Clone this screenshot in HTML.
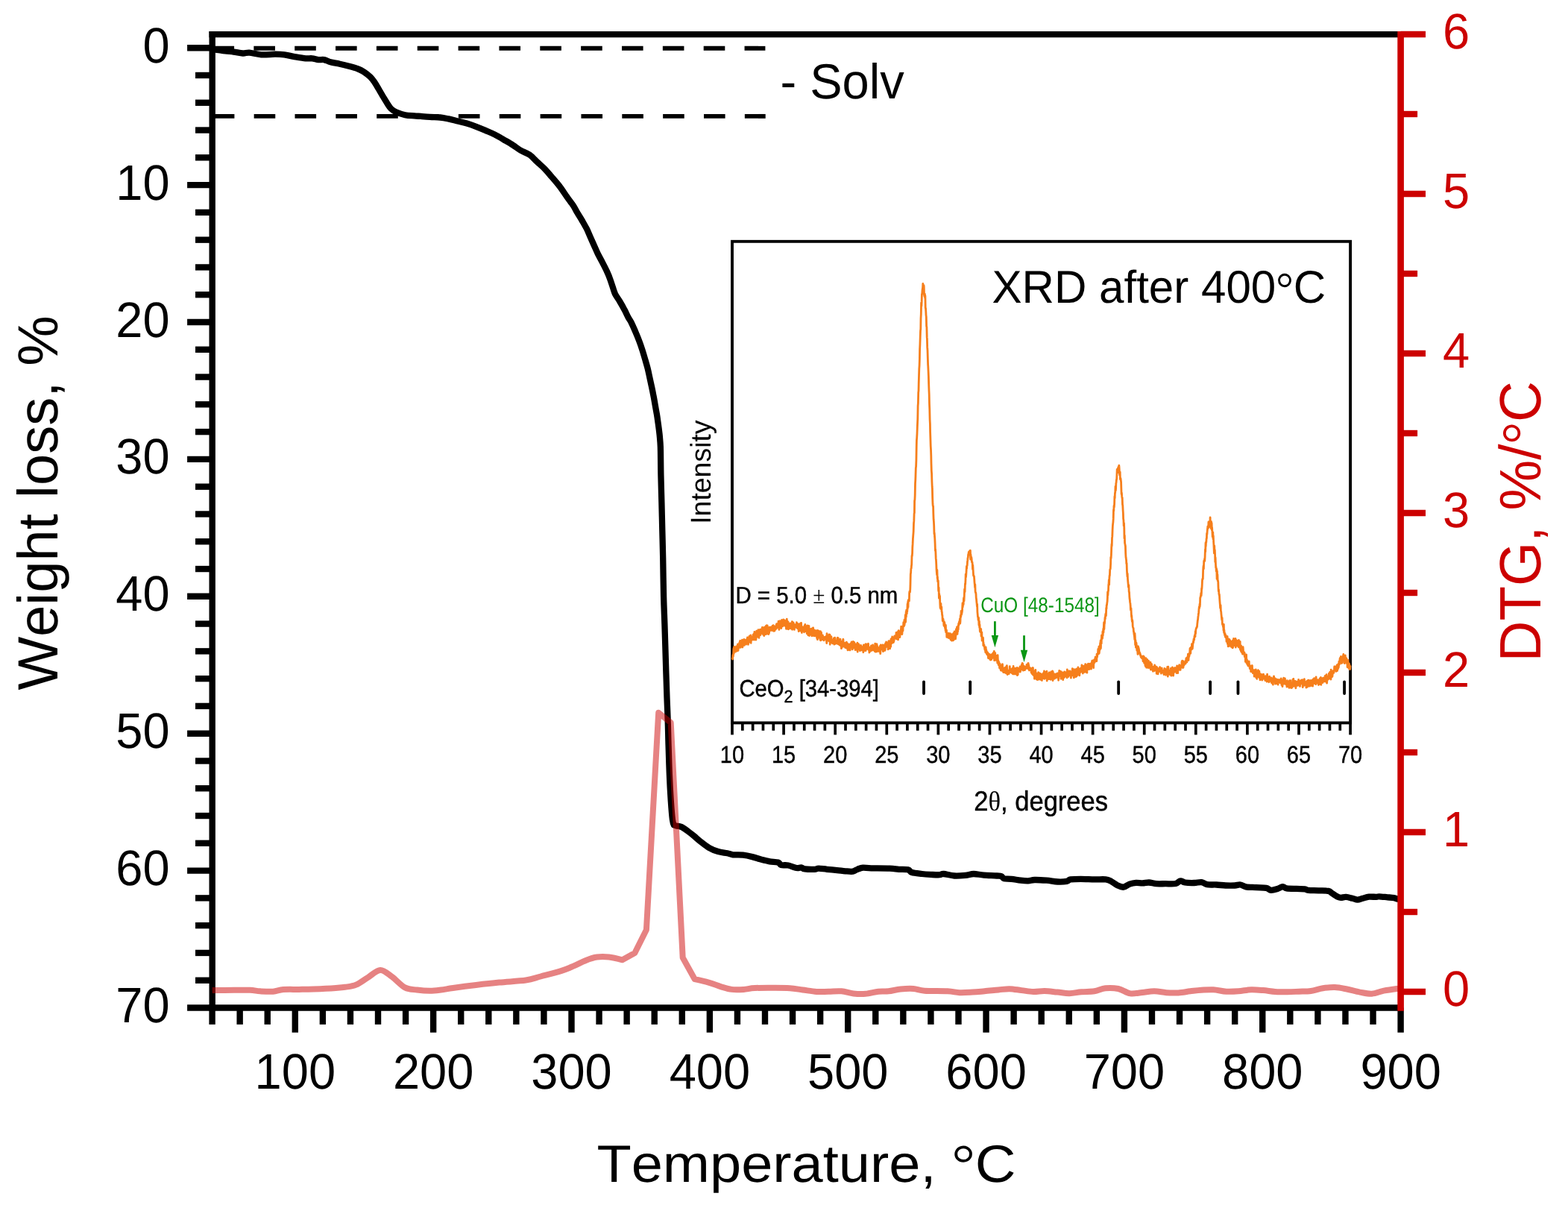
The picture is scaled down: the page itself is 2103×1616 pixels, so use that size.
<!DOCTYPE html>
<html lang="en">
<head>
<meta charset="utf-8">
<title>TGA / DTG with XRD inset</title>
<style>
html,body{margin:0;padding:0;background:#fff;}
body{width:2103px;height:1616px;overflow:hidden;}
svg{display:block;}
svg text{font-kerning:none;font-variant-ligatures:none;text-rendering:geometricPrecision;}
</style>
</head>
<body>
<svg width="2103" height="1616" viewBox="0 0 2103 1616">
<rect x="0" y="0" width="2103" height="1616" fill="#fff"/>
<line x1="285.50" y1="64.80" x2="1026.40" y2="64.80" stroke="#000" stroke-width="5.9" stroke-dasharray="28.6 26.25"/>
<line x1="285.80" y1="155.90" x2="1026.70" y2="155.90" stroke="#000" stroke-width="5.9" stroke-dasharray="28.6 26.25"/>
<path d="M284.7 66.3C285.4 66.3 286.0 66.2 288.9 66.5C291.8 66.8 298.1 67.9 302.2 68.4C306.3 68.9 309.4 69.1 313.3 69.6C317.2 70.1 322.2 71.3 325.7 71.5C329.2 71.7 330.3 70.3 334.4 70.6C338.5 70.9 344.6 72.9 350.4 73.3C356.2 73.7 363.8 72.7 369.0 72.7C374.2 72.7 377.3 72.8 381.4 73.3C385.5 73.8 389.1 75.0 393.8 75.8C398.6 76.6 405.8 77.9 409.9 78.3C414.0 78.7 415.6 78.0 418.5 78.3C421.4 78.6 424.5 79.8 427.2 80.1C429.9 80.4 431.9 79.6 434.6 80.1C437.3 80.6 439.8 82.3 443.3 83.2C446.8 84.1 451.5 84.8 455.6 85.7C459.7 86.6 463.9 87.7 468.0 88.8C472.1 89.9 477.1 91.3 480.4 92.5C483.7 93.7 485.1 94.5 487.8 96.2C490.5 98.0 494.0 100.6 496.5 103.0C499.0 105.4 500.9 108.2 502.7 110.8C504.5 113.4 505.8 115.8 507.5 118.8C509.2 121.8 511.3 125.5 513.2 128.6C515.1 131.7 516.9 134.8 518.7 137.6C520.6 140.4 522.2 143.5 524.3 145.6C526.4 147.7 528.0 148.8 531.2 150.2C534.4 151.6 539.2 153.3 543.3 154.2C547.4 155.1 552.2 155.1 555.7 155.4C559.2 155.7 560.9 155.7 564.4 155.9C567.9 156.2 572.4 156.6 576.7 156.9C581.0 157.2 586.2 157.1 590.3 157.5C594.4 157.9 597.6 158.6 601.5 159.4C605.4 160.2 609.8 161.5 613.9 162.5C618.0 163.5 622.1 164.4 626.2 165.6C630.3 166.8 634.5 168.3 638.6 169.9C642.7 171.5 646.9 173.2 651.0 174.9C655.1 176.7 659.3 178.3 663.4 180.4C667.5 182.5 671.6 184.9 675.7 187.3C679.8 189.7 684.4 192.3 688.1 194.7C691.8 197.1 694.3 199.3 698.0 201.5C701.7 203.7 706.7 205.1 710.4 207.7C714.1 210.3 717.0 213.9 720.3 217.0C723.6 220.1 726.9 222.8 730.2 226.2C733.5 229.6 736.8 233.6 740.1 237.4C743.4 241.2 746.5 244.6 750.0 249.1C753.5 253.6 757.6 260.2 760.8 264.7C763.9 269.1 766.6 272.3 768.9 275.8C771.2 279.3 772.5 282.4 774.5 285.7C776.5 289.0 778.6 292.1 780.6 295.6C782.6 299.1 784.9 303.0 786.8 306.7C788.7 310.4 790.1 314.2 791.8 317.9C793.4 321.6 795.1 325.3 796.7 329.0C798.4 332.7 799.8 336.3 801.7 340.1C803.6 343.9 805.8 347.9 807.9 351.9C810.0 355.9 812.4 360.5 814.1 364.3C815.9 368.1 817.1 371.2 818.4 374.8C819.7 378.4 821.0 382.6 822.1 385.9C823.2 389.2 823.7 391.5 825.2 394.6C826.8 397.7 829.3 401.0 831.4 404.5C833.5 408.0 835.8 412.1 837.6 415.6C839.5 419.1 841.0 422.7 842.5 425.5C844.0 428.3 845.0 429.2 846.6 432.4C848.2 435.6 850.4 440.7 852.2 444.8C854.0 448.9 855.7 453.0 857.2 457.1C858.8 461.2 860.2 465.4 861.5 469.5C862.8 473.6 864.0 477.8 865.2 481.9C866.4 486.0 867.7 490.2 868.7 494.3C869.7 498.4 870.5 502.5 871.4 506.6C872.3 510.7 873.2 514.9 874.1 519.0C875.0 523.1 875.8 527.3 876.6 531.4C877.4 535.5 878.1 539.7 878.8 543.8C879.5 547.9 880.3 552.0 881.0 556.1C881.7 560.2 882.2 564.4 882.8 568.5C883.4 572.6 883.9 576.8 884.4 580.9C884.9 585.0 885.2 589.2 885.5 593.3C885.8 597.4 885.9 598.3 886.0 605.6C886.1 612.9 886.2 625.7 886.4 637.1C886.6 648.5 887.1 661.9 887.4 674.3C887.7 686.7 888.0 699.0 888.3 711.4C888.6 723.8 888.9 733.7 889.2 748.5C889.5 763.3 889.7 785.2 890.1 800.0C890.5 814.8 890.9 822.7 891.4 837.1C891.9 851.5 892.4 870.1 892.9 886.6C893.4 903.1 894.0 922.7 894.5 936.1C895.0 949.5 895.4 956.5 895.7 967.1C896.1 977.8 896.2 988.3 896.6 1000.0C897.0 1011.7 897.3 1024.7 897.8 1037.1C898.3 1049.5 899.1 1064.0 899.8 1074.3C900.5 1084.6 901.2 1093.7 901.9 1099.0C902.6 1104.3 903.8 1106.4 903.8 1106.4C903.8 1106.4 907.5 1107.7 907.5 1107.7C907.5 1107.7 911.2 1107.8 913.7 1108.9C916.2 1110.0 919.4 1112.4 922.3 1114.5C925.2 1116.6 928.1 1118.9 931.0 1121.3C933.9 1123.7 936.4 1126.1 939.7 1128.7C943.0 1131.3 946.9 1134.6 950.8 1136.8C954.7 1139.0 959.1 1140.9 963.2 1142.1C967.3 1143.3 972.2 1143.5 975.5 1144.2C978.8 1144.9 979.5 1145.9 983.0 1146.3C986.5 1146.7 992.3 1146.2 996.6 1146.7C1000.9 1147.2 1004.9 1148.1 1009.0 1149.1C1013.1 1150.1 1017.4 1151.8 1021.3 1152.8C1025.2 1153.8 1028.7 1154.7 1032.4 1155.3C1036.1 1155.9 1040.9 1155.7 1043.5 1156.5C1046.1 1157.3 1045.5 1159.3 1047.8 1160.0C1050.1 1160.7 1053.7 1159.8 1057.1 1160.5C1060.5 1161.2 1065.4 1163.5 1068.3 1164.0C1071.2 1164.5 1072.7 1163.1 1074.5 1163.3C1076.3 1163.5 1076.3 1165.0 1079.4 1165.4C1082.5 1165.8 1089.9 1165.9 1093.0 1165.8C1096.1 1165.7 1095.3 1164.6 1098.0 1164.6C1100.7 1164.6 1105.0 1165.4 1109.1 1165.8C1113.2 1166.2 1118.6 1166.7 1122.7 1167.1C1126.8 1167.5 1130.4 1168.0 1133.9 1168.3C1137.4 1168.6 1141.1 1169.1 1143.8 1168.7C1146.5 1168.3 1147.7 1166.6 1150.0 1165.8C1152.3 1165.0 1154.3 1164.0 1157.4 1163.7C1160.5 1163.5 1162.5 1164.2 1168.5 1164.3C1174.5 1164.4 1187.1 1164.3 1193.3 1164.6C1199.5 1164.8 1201.5 1165.5 1205.6 1165.8C1209.7 1166.1 1215.1 1165.7 1218.0 1166.4C1220.9 1167.1 1219.9 1169.2 1223.0 1170.1C1226.1 1171.0 1232.3 1171.5 1236.6 1172.0C1240.9 1172.5 1245.1 1172.7 1249.0 1172.9C1252.9 1173.1 1257.3 1173.4 1260.1 1173.2C1262.9 1173.0 1262.4 1171.8 1265.7 1172.0C1269.0 1172.2 1275.2 1174.2 1280.0 1174.5C1284.8 1174.8 1290.5 1174.3 1294.8 1173.9C1299.1 1173.5 1301.8 1172.0 1305.9 1172.0C1310.0 1172.0 1314.3 1173.2 1319.5 1173.6C1324.7 1174.0 1332.9 1174.2 1336.8 1174.5C1340.7 1174.8 1341.3 1174.5 1343.0 1175.1C1344.7 1175.7 1344.4 1177.6 1346.7 1178.2C1349.0 1178.8 1352.9 1178.4 1356.6 1178.8C1360.3 1179.2 1365.3 1180.3 1369.0 1180.7C1372.7 1181.1 1375.8 1181.4 1378.9 1181.3C1382.0 1181.2 1383.5 1180.1 1387.6 1180.0C1391.7 1179.9 1398.5 1180.3 1403.7 1180.7C1408.9 1181.1 1414.0 1182.3 1418.5 1182.5C1423.0 1182.7 1428.0 1182.4 1430.9 1181.9C1433.8 1181.4 1432.7 1179.9 1435.8 1179.4C1438.9 1178.9 1444.1 1178.8 1449.5 1178.8C1454.9 1178.8 1462.4 1179.3 1468.0 1179.4C1473.6 1179.5 1479.2 1179.0 1482.9 1179.4C1486.6 1179.8 1487.6 1180.6 1490.3 1181.9C1493.0 1183.2 1496.2 1186.2 1499.0 1187.5C1501.8 1188.8 1504.3 1190.0 1507.0 1189.7C1509.7 1189.4 1512.2 1186.6 1515.0 1185.6C1517.8 1184.6 1520.8 1184.0 1523.7 1183.8C1526.6 1183.6 1529.5 1184.5 1532.4 1184.4C1535.3 1184.4 1537.9 1183.4 1541.0 1183.5C1544.1 1183.6 1547.2 1184.9 1550.9 1185.2C1554.6 1185.5 1559.0 1185.2 1563.3 1185.2C1567.6 1185.2 1573.6 1185.7 1576.9 1185.0C1580.2 1184.3 1581.0 1181.5 1583.1 1181.3C1585.2 1181.0 1586.2 1183.0 1589.3 1183.5C1592.4 1184.0 1598.0 1184.1 1601.7 1184.0C1605.4 1183.9 1608.7 1182.7 1611.6 1183.1C1614.5 1183.5 1615.7 1185.6 1619.0 1186.2C1622.3 1186.8 1627.3 1186.3 1631.4 1186.5C1635.5 1186.7 1639.7 1187.3 1643.8 1187.5C1647.9 1187.7 1652.8 1187.7 1656.1 1187.5C1659.4 1187.3 1661.1 1186.2 1663.6 1186.5C1666.1 1186.8 1667.5 1188.7 1671.0 1189.3C1674.5 1189.9 1680.1 1189.9 1684.6 1190.2C1689.1 1190.5 1694.8 1190.3 1698.2 1190.9C1701.6 1191.5 1702.2 1193.6 1704.7 1193.8C1707.2 1194.0 1710.7 1192.8 1713.3 1192.0C1715.9 1191.2 1718.3 1189.2 1720.4 1189.1C1722.5 1189.0 1722.7 1190.9 1725.7 1191.4C1728.8 1191.9 1734.7 1191.8 1738.7 1191.9C1742.8 1192.1 1747.3 1192.0 1750.0 1192.3C1752.7 1192.6 1751.7 1193.6 1754.8 1193.9C1757.9 1194.2 1763.9 1194.1 1768.4 1194.3C1772.9 1194.5 1778.7 1194.3 1781.7 1194.9C1784.7 1195.5 1784.1 1196.5 1786.6 1198.0C1789.1 1199.5 1793.4 1202.8 1796.5 1203.6C1799.6 1204.4 1802.3 1202.7 1805.2 1202.9C1808.1 1203.1 1811.3 1204.2 1813.9 1204.8C1816.5 1205.4 1818.4 1206.7 1820.7 1206.7C1823.0 1206.7 1824.9 1205.5 1827.5 1204.8C1830.1 1204.1 1833.0 1202.9 1836.1 1202.6C1839.2 1202.3 1843.7 1203.0 1846.0 1202.9C1848.3 1202.9 1847.3 1202.2 1849.8 1202.3C1852.3 1202.4 1857.6 1203.0 1860.9 1203.3C1864.2 1203.6 1867.3 1203.8 1869.6 1204.2C1871.9 1204.6 1873.0 1205.5 1874.5 1205.8C1876.0 1206.1 1877.9 1206.1 1878.6 1206.2" fill="none" stroke="#000" stroke-width="8.3" stroke-linejoin="round" stroke-linecap="butt"/>
<rect x="982.0" y="323.8" width="829.10" height="645.60" fill="none" stroke="#000" stroke-width="3.9"/>
<line x1="982.00" y1="969.40" x2="982.00" y2="985.40" stroke="#000" stroke-width="3.7" />
<line x1="995.82" y1="969.40" x2="995.82" y2="979.80" stroke="#000" stroke-width="3.7" />
<line x1="1009.64" y1="969.40" x2="1009.64" y2="979.80" stroke="#000" stroke-width="3.7" />
<line x1="1023.45" y1="969.40" x2="1023.45" y2="979.80" stroke="#000" stroke-width="3.7" />
<line x1="1037.27" y1="969.40" x2="1037.27" y2="979.80" stroke="#000" stroke-width="3.7" />
<line x1="1051.09" y1="969.40" x2="1051.09" y2="985.40" stroke="#000" stroke-width="3.7" />
<line x1="1064.91" y1="969.40" x2="1064.91" y2="979.80" stroke="#000" stroke-width="3.7" />
<line x1="1078.73" y1="969.40" x2="1078.73" y2="979.80" stroke="#000" stroke-width="3.7" />
<line x1="1092.54" y1="969.40" x2="1092.54" y2="979.80" stroke="#000" stroke-width="3.7" />
<line x1="1106.36" y1="969.40" x2="1106.36" y2="979.80" stroke="#000" stroke-width="3.7" />
<line x1="1120.18" y1="969.40" x2="1120.18" y2="985.40" stroke="#000" stroke-width="3.7" />
<line x1="1134.00" y1="969.40" x2="1134.00" y2="979.80" stroke="#000" stroke-width="3.7" />
<line x1="1147.82" y1="969.40" x2="1147.82" y2="979.80" stroke="#000" stroke-width="3.7" />
<line x1="1161.63" y1="969.40" x2="1161.63" y2="979.80" stroke="#000" stroke-width="3.7" />
<line x1="1175.45" y1="969.40" x2="1175.45" y2="979.80" stroke="#000" stroke-width="3.7" />
<line x1="1189.27" y1="969.40" x2="1189.27" y2="985.40" stroke="#000" stroke-width="3.7" />
<line x1="1203.09" y1="969.40" x2="1203.09" y2="979.80" stroke="#000" stroke-width="3.7" />
<line x1="1216.91" y1="969.40" x2="1216.91" y2="979.80" stroke="#000" stroke-width="3.7" />
<line x1="1230.72" y1="969.40" x2="1230.72" y2="979.80" stroke="#000" stroke-width="3.7" />
<line x1="1244.54" y1="969.40" x2="1244.54" y2="979.80" stroke="#000" stroke-width="3.7" />
<line x1="1258.36" y1="969.40" x2="1258.36" y2="985.40" stroke="#000" stroke-width="3.7" />
<line x1="1272.18" y1="969.40" x2="1272.18" y2="979.80" stroke="#000" stroke-width="3.7" />
<line x1="1286.00" y1="969.40" x2="1286.00" y2="979.80" stroke="#000" stroke-width="3.7" />
<line x1="1299.81" y1="969.40" x2="1299.81" y2="979.80" stroke="#000" stroke-width="3.7" />
<line x1="1313.63" y1="969.40" x2="1313.63" y2="979.80" stroke="#000" stroke-width="3.7" />
<line x1="1327.45" y1="969.40" x2="1327.45" y2="985.40" stroke="#000" stroke-width="3.7" />
<line x1="1341.27" y1="969.40" x2="1341.27" y2="979.80" stroke="#000" stroke-width="3.7" />
<line x1="1355.09" y1="969.40" x2="1355.09" y2="979.80" stroke="#000" stroke-width="3.7" />
<line x1="1368.90" y1="969.40" x2="1368.90" y2="979.80" stroke="#000" stroke-width="3.7" />
<line x1="1382.72" y1="969.40" x2="1382.72" y2="979.80" stroke="#000" stroke-width="3.7" />
<line x1="1396.54" y1="969.40" x2="1396.54" y2="985.40" stroke="#000" stroke-width="3.7" />
<line x1="1410.36" y1="969.40" x2="1410.36" y2="979.80" stroke="#000" stroke-width="3.7" />
<line x1="1424.18" y1="969.40" x2="1424.18" y2="979.80" stroke="#000" stroke-width="3.7" />
<line x1="1437.99" y1="969.40" x2="1437.99" y2="979.80" stroke="#000" stroke-width="3.7" />
<line x1="1451.81" y1="969.40" x2="1451.81" y2="979.80" stroke="#000" stroke-width="3.7" />
<line x1="1465.63" y1="969.40" x2="1465.63" y2="985.40" stroke="#000" stroke-width="3.7" />
<line x1="1479.45" y1="969.40" x2="1479.45" y2="979.80" stroke="#000" stroke-width="3.7" />
<line x1="1493.27" y1="969.40" x2="1493.27" y2="979.80" stroke="#000" stroke-width="3.7" />
<line x1="1507.08" y1="969.40" x2="1507.08" y2="979.80" stroke="#000" stroke-width="3.7" />
<line x1="1520.90" y1="969.40" x2="1520.90" y2="979.80" stroke="#000" stroke-width="3.7" />
<line x1="1534.72" y1="969.40" x2="1534.72" y2="985.40" stroke="#000" stroke-width="3.7" />
<line x1="1548.54" y1="969.40" x2="1548.54" y2="979.80" stroke="#000" stroke-width="3.7" />
<line x1="1562.36" y1="969.40" x2="1562.36" y2="979.80" stroke="#000" stroke-width="3.7" />
<line x1="1576.17" y1="969.40" x2="1576.17" y2="979.80" stroke="#000" stroke-width="3.7" />
<line x1="1589.99" y1="969.40" x2="1589.99" y2="979.80" stroke="#000" stroke-width="3.7" />
<line x1="1603.81" y1="969.40" x2="1603.81" y2="985.40" stroke="#000" stroke-width="3.7" />
<line x1="1617.63" y1="969.40" x2="1617.63" y2="979.80" stroke="#000" stroke-width="3.7" />
<line x1="1631.45" y1="969.40" x2="1631.45" y2="979.80" stroke="#000" stroke-width="3.7" />
<line x1="1645.26" y1="969.40" x2="1645.26" y2="979.80" stroke="#000" stroke-width="3.7" />
<line x1="1659.08" y1="969.40" x2="1659.08" y2="979.80" stroke="#000" stroke-width="3.7" />
<line x1="1672.90" y1="969.40" x2="1672.90" y2="985.40" stroke="#000" stroke-width="3.7" />
<line x1="1686.72" y1="969.40" x2="1686.72" y2="979.80" stroke="#000" stroke-width="3.7" />
<line x1="1700.54" y1="969.40" x2="1700.54" y2="979.80" stroke="#000" stroke-width="3.7" />
<line x1="1714.35" y1="969.40" x2="1714.35" y2="979.80" stroke="#000" stroke-width="3.7" />
<line x1="1728.17" y1="969.40" x2="1728.17" y2="979.80" stroke="#000" stroke-width="3.7" />
<line x1="1741.99" y1="969.40" x2="1741.99" y2="985.40" stroke="#000" stroke-width="3.7" />
<line x1="1755.81" y1="969.40" x2="1755.81" y2="979.80" stroke="#000" stroke-width="3.7" />
<line x1="1769.63" y1="969.40" x2="1769.63" y2="979.80" stroke="#000" stroke-width="3.7" />
<line x1="1783.44" y1="969.40" x2="1783.44" y2="979.80" stroke="#000" stroke-width="3.7" />
<line x1="1797.26" y1="969.40" x2="1797.26" y2="979.80" stroke="#000" stroke-width="3.7" />
<line x1="1811.08" y1="969.40" x2="1811.08" y2="985.40" stroke="#000" stroke-width="3.7" />
<path d="M982.2 882.9L982.5 884.0L982.8 878.5L983.0 878.6L983.3 880.5L983.6 876.7L983.9 869.7L984.2 876.4L984.4 868.0L984.7 867.2L985.0 872.8L985.3 871.3L985.6 872.1L985.8 872.1L986.1 872.4L986.4 874.2L986.7 869.3L987.0 869.9L987.2 868.7L987.5 866.9L987.8 867.2L988.1 870.2L988.4 869.4L988.6 873.0L988.9 868.5L989.2 866.2L989.5 864.0L989.8 870.6L990.0 872.3L990.3 868.8L990.6 869.3L990.9 865.4L991.2 864.1L991.4 865.2L991.7 862.2L992.0 867.1L992.3 860.4L992.6 859.4L992.8 859.2L993.1 868.4L993.4 866.0L993.7 866.3L994.0 866.3L994.2 866.2L994.5 867.2L994.8 865.7L995.1 866.4L995.4 858.2L995.6 859.5L995.9 868.0L996.2 864.0L996.5 864.7L996.8 858.6L997.0 861.1L997.3 859.4L997.6 864.7L997.9 857.5L998.2 861.0L998.4 865.4L998.7 857.9L999.0 858.4L999.3 862.4L999.6 861.3L999.8 860.5L1000.1 858.8L1000.4 860.4L1000.7 864.0L1001.0 860.9L1001.2 857.7L1001.5 857.7L1001.8 857.7L1002.1 859.7L1002.4 855.0L1002.6 859.0L1002.9 856.8L1003.2 859.9L1003.5 864.3L1003.8 858.7L1004.0 856.8L1004.3 857.1L1004.6 860.2L1004.9 853.5L1005.2 859.4L1005.4 861.2L1005.7 855.5L1006.0 858.3L1006.3 859.5L1006.6 851.8L1006.8 856.5L1007.1 862.3L1007.4 858.0L1007.7 855.9L1008.0 858.5L1008.2 854.3L1008.5 857.8L1008.8 854.1L1009.1 855.4L1009.4 856.5L1009.6 856.3L1009.9 851.4L1010.2 857.9L1010.5 856.2L1010.8 853.8L1011.0 850.2L1011.3 850.8L1011.6 858.0L1011.9 847.3L1012.2 857.2L1012.4 854.1L1012.7 853.9L1013.0 856.0L1013.3 856.9L1013.6 850.0L1013.8 858.2L1014.1 856.3L1014.4 851.1L1014.7 846.1L1015.0 854.0L1015.2 851.4L1015.5 853.8L1015.8 851.0L1016.1 854.1L1016.4 848.9L1016.6 853.4L1016.9 844.7L1017.2 853.7L1017.5 849.7L1017.8 850.1L1018.0 855.4L1018.3 850.0L1018.6 849.2L1018.9 845.8L1019.2 844.5L1019.4 847.5L1019.7 849.2L1020.0 851.5L1020.3 844.2L1020.6 846.9L1020.8 845.9L1021.1 846.2L1021.4 844.8L1021.7 849.3L1022.0 846.1L1022.2 842.1L1022.5 841.3L1022.8 845.0L1023.1 849.8L1023.4 849.6L1023.6 851.2L1023.9 849.1L1024.2 849.6L1024.5 850.7L1024.8 852.5L1025.0 841.3L1025.3 843.6L1025.6 848.3L1025.9 847.8L1026.2 848.7L1026.4 846.8L1026.7 850.7L1027.0 839.6L1027.3 844.5L1027.6 842.9L1027.8 842.8L1028.1 847.2L1028.4 838.6L1028.7 850.1L1029.0 846.2L1029.2 839.0L1029.5 847.8L1029.8 848.6L1030.1 849.9L1030.4 845.2L1030.6 844.8L1030.9 850.5L1031.2 847.1L1031.5 849.0L1031.8 846.8L1032.0 841.1L1032.3 844.4L1032.6 843.3L1032.9 844.9L1033.2 844.6L1033.4 844.3L1033.7 842.1L1034.0 845.3L1034.3 840.9L1034.6 842.7L1034.8 842.6L1035.1 843.0L1035.4 843.6L1035.7 845.4L1036.0 843.5L1036.2 839.1L1036.5 839.1L1036.8 844.0L1037.1 838.6L1037.4 846.3L1037.6 839.2L1037.9 842.9L1038.2 845.7L1038.5 843.3L1038.8 846.0L1039.0 843.9L1039.3 840.4L1039.6 842.9L1039.9 842.4L1040.2 843.3L1040.4 844.2L1040.7 839.7L1041.0 838.2L1041.3 842.8L1041.6 836.6L1041.8 840.5L1042.1 842.2L1042.4 839.8L1042.7 840.3L1043.0 839.7L1043.2 836.3L1043.5 837.5L1043.8 837.9L1044.1 833.1L1044.4 840.7L1044.6 838.8L1044.9 844.3L1045.2 840.3L1045.5 838.1L1045.8 833.1L1046.0 832.7L1046.3 838.2L1046.6 832.8L1046.9 835.0L1047.2 838.2L1047.4 838.8L1047.7 842.5L1048.0 841.5L1048.3 834.7L1048.6 831.4L1048.8 839.3L1049.1 833.0L1049.4 837.1L1049.7 836.7L1050.0 839.7L1050.2 838.6L1050.5 837.0L1050.8 830.9L1051.1 832.9L1051.4 837.9L1051.6 836.5L1051.9 836.3L1052.2 837.1L1052.5 832.0L1052.8 839.3L1053.0 837.9L1053.3 835.9L1053.6 834.7L1053.9 835.4L1054.2 837.1L1054.4 843.3L1054.7 835.8L1055.0 840.0L1055.3 830.2L1055.6 838.5L1055.8 843.3L1056.1 839.1L1056.4 839.8L1056.7 838.5L1057.0 833.9L1057.2 837.9L1057.5 843.8L1057.8 840.9L1058.1 837.5L1058.4 839.3L1058.6 839.8L1058.9 842.7L1059.2 837.9L1059.5 842.2L1059.8 835.9L1060.0 836.0L1060.3 840.3L1060.6 836.2L1060.9 840.8L1061.2 843.0L1061.4 841.9L1061.7 838.6L1062.0 841.1L1062.3 833.6L1062.6 844.3L1062.8 834.5L1063.1 834.2L1063.4 839.0L1063.7 838.3L1064.0 839.4L1064.2 835.1L1064.5 840.9L1064.8 838.9L1065.1 838.2L1065.4 844.4L1065.6 838.3L1065.9 837.7L1066.2 840.8L1066.5 841.5L1066.8 837.9L1067.0 840.1L1067.3 838.6L1067.6 840.7L1067.9 839.5L1068.2 841.4L1068.4 834.7L1068.7 837.8L1069.0 837.4L1069.3 842.4L1069.6 842.9L1069.8 841.6L1070.1 836.5L1070.4 840.7L1070.7 840.6L1071.0 843.2L1071.2 846.6L1071.5 837.7L1071.8 845.8L1072.1 842.1L1072.4 841.2L1072.6 841.3L1072.9 844.1L1073.2 836.2L1073.5 842.9L1073.8 842.7L1074.0 846.1L1074.3 840.0L1074.6 835.3L1074.9 842.8L1075.2 842.7L1075.4 848.5L1075.7 843.7L1076.0 843.9L1076.3 843.2L1076.6 843.2L1076.8 840.9L1077.1 845.4L1077.4 841.7L1077.7 846.0L1078.0 845.5L1078.2 840.8L1078.5 847.8L1078.8 841.0L1079.1 838.9L1079.4 843.6L1079.6 840.3L1079.9 837.3L1080.2 842.2L1080.5 846.7L1080.8 845.5L1081.0 839.5L1081.3 846.9L1081.6 843.9L1081.9 845.4L1082.2 849.6L1082.4 842.8L1082.7 844.9L1083.0 841.3L1083.3 838.8L1083.6 847.1L1083.8 851.8L1084.1 848.2L1084.4 846.6L1084.7 844.5L1085.0 839.3L1085.2 848.6L1085.5 852.5L1085.8 844.6L1086.1 843.7L1086.4 846.4L1086.6 846.6L1086.9 848.0L1087.2 846.2L1087.5 843.3L1087.8 851.3L1088.0 850.3L1088.3 848.2L1088.6 848.3L1088.9 852.8L1089.2 842.9L1089.4 850.6L1089.7 848.9L1090.0 848.2L1090.3 848.0L1090.6 841.9L1090.8 852.4L1091.1 847.5L1091.4 846.7L1091.7 851.0L1092.0 852.7L1092.2 844.9L1092.5 849.6L1092.8 852.8L1093.1 847.8L1093.4 851.2L1093.6 851.5L1093.9 849.1L1094.2 852.4L1094.5 845.6L1094.8 849.2L1095.0 853.1L1095.3 852.3L1095.6 855.5L1095.9 854.7L1096.2 851.9L1096.4 857.7L1096.7 845.4L1097.0 854.4L1097.3 853.6L1097.6 852.1L1097.8 855.0L1098.1 852.0L1098.4 846.4L1098.7 853.7L1099.0 850.4L1099.2 852.5L1099.5 850.8L1099.8 856.4L1100.1 858.1L1100.4 846.6L1100.6 858.9L1100.9 854.9L1101.2 849.4L1101.5 848.1L1101.8 854.5L1102.0 856.2L1102.3 854.5L1102.6 857.8L1102.9 853.4L1103.2 856.3L1103.4 851.8L1103.7 855.7L1104.0 854.0L1104.3 855.1L1104.6 857.4L1104.8 854.6L1105.1 858.9L1105.4 857.6L1105.7 855.2L1106.0 854.4L1106.2 857.1L1106.5 856.6L1106.8 856.0L1107.1 854.7L1107.4 854.6L1107.6 853.7L1107.9 857.1L1108.2 854.5L1108.5 859.6L1108.8 862.6L1109.0 849.7L1109.3 855.8L1109.6 854.4L1109.9 851.6L1110.2 859.2L1110.4 853.3L1110.7 857.3L1111.0 852.8L1111.3 851.9L1111.6 854.7L1111.8 859.8L1112.1 850.8L1112.4 856.5L1112.7 860.2L1113.0 851.2L1113.2 864.3L1113.5 855.0L1113.8 860.7L1114.1 856.8L1114.4 859.0L1114.6 856.7L1114.9 853.6L1115.2 861.8L1115.5 859.3L1115.8 861.7L1116.0 860.5L1116.3 860.6L1116.6 862.8L1116.9 861.2L1117.2 860.1L1117.4 858.2L1117.7 857.8L1118.0 857.8L1118.3 855.8L1118.6 861.9L1118.8 864.1L1119.1 860.7L1119.4 860.7L1119.7 855.1L1120.0 859.0L1120.2 860.8L1120.5 863.4L1120.8 862.5L1121.1 860.1L1121.4 860.0L1121.6 860.1L1121.9 861.1L1122.2 862.9L1122.5 860.9L1122.8 860.9L1123.0 856.2L1123.3 855.3L1123.6 862.2L1123.9 863.6L1124.2 855.6L1124.4 862.3L1124.7 860.5L1125.0 863.0L1125.3 860.9L1125.6 863.1L1125.8 864.8L1126.1 864.5L1126.4 863.2L1126.7 860.1L1127.0 857.1L1127.2 865.7L1127.5 865.4L1127.8 865.7L1128.1 860.4L1128.4 869.7L1128.6 869.1L1128.9 864.0L1129.2 861.2L1129.5 860.2L1129.8 867.5L1130.0 863.6L1130.3 862.8L1130.6 858.2L1130.9 857.3L1131.2 863.8L1131.4 864.2L1131.7 861.7L1132.0 862.0L1132.3 865.6L1132.6 867.4L1132.8 867.1L1133.1 864.5L1133.4 865.1L1133.7 868.5L1134.0 862.2L1134.2 862.3L1134.5 864.8L1134.8 866.5L1135.1 868.5L1135.4 861.2L1135.6 869.3L1135.9 865.4L1136.2 863.2L1136.5 862.7L1136.8 865.4L1137.0 871.9L1137.3 863.6L1137.6 866.7L1137.9 869.3L1138.2 865.9L1138.4 867.0L1138.7 869.6L1139.0 866.5L1139.3 864.1L1139.6 871.9L1139.8 867.8L1140.1 871.8L1140.4 866.3L1140.7 866.0L1141.0 862.9L1141.2 866.3L1141.5 867.1L1141.8 864.4L1142.1 860.9L1142.4 863.4L1142.6 865.5L1142.9 866.2L1143.2 870.9L1143.5 867.1L1143.8 866.4L1144.0 866.5L1144.3 860.4L1144.6 868.9L1144.9 865.1L1145.2 863.9L1145.4 863.7L1145.7 861.5L1146.0 868.3L1146.3 862.8L1146.6 869.2L1146.8 868.4L1147.1 871.5L1147.4 867.9L1147.7 868.1L1148.0 865.7L1148.2 869.0L1148.5 866.2L1148.8 863.8L1149.1 871.5L1149.4 869.5L1149.6 870.6L1149.9 862.2L1150.2 874.1L1150.5 864.3L1150.8 868.6L1151.0 868.5L1151.3 864.3L1151.6 863.8L1151.9 869.1L1152.2 868.8L1152.4 865.4L1152.7 870.9L1153.0 867.1L1153.3 872.7L1153.6 871.6L1153.8 867.3L1154.1 871.2L1154.4 868.7L1154.7 865.5L1155.0 872.0L1155.2 869.0L1155.5 867.2L1155.8 870.2L1156.1 868.2L1156.4 871.7L1156.6 868.3L1156.9 869.7L1157.2 871.5L1157.5 867.8L1157.8 874.8L1158.0 867.2L1158.3 865.0L1158.6 873.0L1158.9 870.9L1159.2 866.4L1159.4 866.4L1159.7 869.4L1160.0 866.8L1160.3 869.1L1160.6 870.7L1160.8 863.9L1161.1 872.7L1161.4 863.6L1161.7 867.5L1162.0 867.0L1162.2 870.7L1162.5 866.0L1162.8 864.4L1163.1 869.2L1163.4 864.7L1163.6 870.3L1163.9 867.2L1164.2 867.1L1164.5 863.2L1164.8 868.8L1165.0 871.5L1165.3 867.9L1165.6 870.6L1165.9 875.1L1166.2 873.5L1166.4 874.3L1166.7 868.4L1167.0 870.4L1167.3 873.1L1167.6 868.5L1167.8 869.6L1168.1 867.9L1168.4 865.8L1168.7 871.7L1169.0 872.4L1169.2 871.9L1169.5 867.5L1169.8 867.4L1170.1 870.3L1170.4 870.0L1170.6 864.8L1170.9 867.3L1171.2 866.8L1171.5 872.0L1171.8 871.3L1172.0 867.9L1172.3 867.9L1172.6 867.3L1172.9 867.4L1173.2 871.4L1173.4 873.6L1173.7 863.2L1174.0 870.2L1174.3 872.5L1174.6 874.2L1174.8 872.9L1175.1 872.1L1175.4 865.6L1175.7 869.5L1176.0 863.7L1176.2 873.8L1176.5 866.0L1176.8 873.2L1177.1 869.4L1177.4 870.9L1177.6 873.2L1177.9 870.4L1178.2 868.7L1178.5 872.1L1178.8 873.6L1179.0 868.9L1179.3 868.7L1179.6 871.6L1179.9 871.9L1180.2 866.4L1180.4 871.4L1180.7 876.7L1181.0 872.4L1181.3 864.9L1181.6 868.3L1181.8 869.2L1182.1 870.9L1182.4 867.5L1182.7 865.8L1183.0 870.0L1183.2 868.5L1183.5 871.0L1183.8 864.9L1184.1 870.4L1184.4 873.7L1184.6 865.7L1184.9 872.5L1185.2 865.1L1185.5 867.2L1185.8 867.3L1186.0 866.3L1186.3 865.6L1186.6 867.8L1186.9 872.3L1187.2 871.4L1187.4 863.9L1187.7 862.7L1188.0 863.3L1188.3 867.8L1188.6 860.8L1188.8 861.3L1189.1 865.1L1189.4 863.7L1189.7 865.0L1190.0 864.6L1190.2 865.5L1190.5 861.8L1190.8 865.4L1191.1 870.8L1191.4 865.2L1191.6 861.9L1191.9 859.7L1192.2 865.7L1192.5 864.0L1192.8 868.2L1193.0 864.7L1193.3 859.6L1193.6 869.9L1193.9 863.8L1194.2 862.4L1194.4 859.4L1194.7 867.3L1195.0 856.9L1195.3 860.9L1195.6 858.1L1195.8 862.9L1196.1 862.3L1196.4 857.9L1196.7 853.8L1197.0 859.7L1197.2 858.5L1197.5 861.8L1197.8 855.7L1198.1 855.0L1198.4 861.5L1198.6 855.9L1198.9 860.0L1199.2 857.9L1199.5 854.6L1199.8 852.8L1200.0 853.8L1200.3 853.8L1200.6 855.4L1200.9 854.1L1201.2 855.8L1201.4 852.7L1201.7 856.2L1202.0 848.4L1202.3 856.9L1202.6 849.5L1202.8 853.0L1203.1 856.7L1203.4 849.0L1203.7 847.7L1204.0 854.3L1204.2 852.9L1204.5 857.9L1204.8 850.3L1205.1 845.6L1205.4 847.3L1205.6 849.6L1205.9 851.0L1206.2 850.5L1206.5 849.8L1206.8 854.6L1207.0 853.9L1207.3 848.5L1207.6 848.0L1207.9 847.0L1208.2 844.8L1208.4 844.9L1208.7 840.1L1209.0 842.1L1209.3 841.5L1209.6 844.3L1209.8 850.6L1210.1 847.9L1210.4 843.4L1210.7 840.5L1211.0 846.0L1211.2 839.6L1211.5 839.8L1211.8 834.7L1212.1 839.7L1212.4 834.3L1212.6 839.5L1212.9 831.3L1213.2 837.9L1213.5 831.2L1213.8 831.4L1214.0 829.6L1214.3 824.6L1214.6 834.3L1214.9 826.5L1215.2 820.3L1215.4 827.4L1215.7 818.2L1216.0 818.1L1216.3 822.8L1216.6 818.9L1216.8 819.9L1217.1 810.0L1217.4 816.4L1217.7 807.0L1218.0 814.1L1218.2 804.7L1218.5 806.5L1218.8 806.3L1219.1 804.8L1219.4 805.9L1219.6 795.4L1219.9 793.3L1220.2 792.7L1220.5 794.1L1220.8 789.5L1221.0 783.1L1221.3 770.0L1221.6 768.0L1221.9 762.5L1222.2 762.4L1222.4 759.3L1222.7 757.0L1223.0 745.2L1223.3 745.6L1223.6 741.8L1223.8 734.2L1224.1 729.9L1224.4 723.0L1224.7 718.8L1225.0 715.1L1225.2 712.3L1225.5 701.8L1225.8 698.9L1226.1 688.6L1226.4 688.1L1226.6 671.2L1226.9 670.7L1227.2 664.1L1227.5 648.4L1227.8 643.3L1228.0 637.7L1228.3 627.8L1228.6 625.6L1228.9 617.2L1229.2 599.3L1229.4 590.6L1229.7 587.0L1230.0 581.5L1230.3 573.1L1230.6 565.7L1230.8 561.9L1231.1 544.4L1231.4 540.6L1231.7 526.5L1232.0 524.1L1232.2 514.6L1232.5 504.3L1232.8 494.5L1233.1 490.2L1233.4 481.1L1233.6 469.0L1233.9 462.2L1234.2 452.8L1234.5 443.6L1234.8 441.3L1235.0 427.1L1235.3 421.7L1235.6 406.0L1235.9 410.6L1236.2 404.4L1236.4 394.5L1236.7 394.6L1237.0 389.7L1237.3 387.1L1237.6 385.1L1237.8 380.5L1238.1 383.1L1238.4 386.3L1238.7 385.2L1239.0 382.6L1239.2 384.1L1239.5 394.8L1239.8 397.2L1240.1 396.1L1240.4 394.2L1240.6 399.8L1240.9 396.5L1241.2 412.9L1241.5 413.1L1241.8 418.0L1242.0 422.6L1242.3 424.9L1242.6 437.8L1242.9 438.6L1243.2 452.4L1243.4 454.2L1243.7 465.9L1244.0 469.6L1244.3 479.5L1244.6 488.6L1244.8 491.7L1245.1 498.2L1245.4 505.0L1245.7 515.7L1246.0 524.2L1246.2 528.7L1246.5 542.0L1246.8 549.1L1247.1 562.7L1247.4 568.3L1247.6 579.1L1247.9 588.1L1248.2 597.8L1248.5 602.6L1248.8 611.1L1249.0 621.4L1249.3 631.3L1249.6 635.2L1249.9 645.9L1250.2 653.0L1250.4 654.9L1250.7 668.1L1251.0 676.0L1251.3 678.9L1251.6 678.9L1251.8 687.8L1252.1 696.2L1252.4 699.3L1252.7 705.2L1253.0 716.1L1253.2 714.5L1253.5 718.9L1253.8 722.5L1254.1 729.0L1254.4 738.7L1254.6 736.6L1254.9 741.0L1255.2 748.9L1255.5 751.5L1255.8 757.8L1256.0 763.1L1256.3 767.4L1256.6 770.9L1256.9 764.5L1257.2 775.6L1257.4 773.4L1257.7 779.9L1258.0 779.6L1258.3 778.6L1258.6 791.2L1258.8 792.9L1259.1 787.9L1259.4 802.2L1259.7 796.4L1260.0 798.8L1260.2 801.1L1260.5 799.2L1260.8 809.6L1261.1 815.4L1261.4 811.4L1261.6 816.4L1261.9 809.3L1262.2 815.9L1262.5 817.1L1262.8 814.0L1263.0 820.3L1263.3 820.5L1263.6 824.8L1263.9 825.2L1264.2 832.2L1264.4 832.9L1264.7 829.7L1265.0 830.2L1265.3 832.6L1265.6 833.2L1265.8 838.0L1266.1 839.4L1266.4 839.3L1266.7 834.4L1267.0 837.6L1267.2 836.9L1267.5 842.5L1267.8 841.8L1268.1 845.6L1268.4 838.4L1268.6 847.8L1268.9 847.2L1269.2 844.8L1269.5 845.3L1269.8 854.4L1270.0 849.2L1270.3 850.3L1270.6 852.8L1270.9 851.9L1271.2 853.1L1271.4 853.4L1271.7 854.1L1272.0 855.3L1272.3 849.1L1272.6 849.9L1272.8 853.8L1273.1 849.6L1273.4 855.8L1273.7 850.6L1274.0 855.7L1274.2 855.6L1274.5 849.7L1274.8 856.6L1275.1 858.0L1275.4 850.9L1275.6 853.8L1275.9 857.9L1276.2 853.9L1276.5 859.1L1276.8 857.9L1277.0 850.7L1277.3 857.3L1277.6 858.5L1277.9 854.9L1278.2 855.3L1278.4 858.9L1278.7 850.8L1279.0 848.8L1279.3 857.9L1279.6 851.3L1279.8 852.6L1280.1 847.0L1280.4 850.4L1280.7 851.3L1281.0 849.2L1281.2 847.1L1281.5 856.8L1281.8 852.8L1282.1 851.5L1282.4 843.7L1282.6 845.8L1282.9 843.9L1283.2 848.6L1283.5 840.9L1283.8 844.6L1284.0 850.4L1284.3 843.4L1284.6 847.0L1284.9 839.8L1285.2 844.1L1285.4 838.8L1285.7 836.2L1286.0 838.4L1286.3 834.8L1286.6 833.5L1286.8 834.7L1287.1 833.5L1287.4 829.8L1287.7 836.2L1288.0 833.0L1288.2 826.3L1288.5 824.7L1288.8 827.3L1289.1 819.4L1289.4 822.5L1289.6 824.3L1289.9 822.7L1290.2 821.4L1290.5 819.4L1290.8 812.7L1291.0 808.7L1291.3 814.0L1291.6 809.4L1291.9 811.3L1292.2 810.0L1292.4 803.1L1292.7 801.5L1293.0 805.9L1293.3 799.2L1293.6 790.2L1293.8 792.7L1294.1 793.6L1294.4 782.9L1294.7 783.5L1295.0 777.2L1295.2 770.1L1295.5 773.8L1295.8 770.3L1296.1 765.7L1296.4 759.6L1296.6 762.7L1296.9 758.3L1297.2 758.4L1297.5 753.0L1297.8 751.2L1298.0 748.4L1298.3 747.7L1298.6 743.5L1298.9 744.6L1299.2 740.9L1299.4 740.2L1299.7 741.2L1300.0 742.3L1300.3 739.6L1300.6 738.6L1300.8 741.8L1301.1 740.8L1301.4 738.2L1301.7 750.1L1302.0 743.9L1302.2 747.1L1302.5 747.7L1302.8 747.2L1303.1 749.1L1303.4 753.5L1303.6 754.2L1303.9 753.6L1304.2 755.7L1304.5 763.4L1304.8 758.1L1305.0 761.4L1305.3 767.2L1305.6 771.9L1305.9 771.7L1306.2 773.3L1306.4 772.6L1306.7 776.3L1307.0 781.1L1307.3 783.9L1307.6 787.8L1307.8 783.8L1308.1 793.1L1308.4 794.8L1308.7 794.8L1309.0 797.0L1309.2 801.7L1309.5 803.3L1309.8 807.0L1310.1 809.7L1310.4 813.4L1310.6 810.2L1310.9 820.5L1311.2 823.9L1311.5 827.3L1311.8 827.9L1312.0 831.5L1312.3 828.0L1312.6 828.8L1312.9 838.2L1313.2 838.8L1313.4 833.2L1313.7 841.8L1314.0 837.6L1314.3 846.4L1314.6 847.3L1314.8 845.3L1315.1 845.4L1315.4 847.9L1315.7 843.5L1316.0 853.2L1316.2 850.4L1316.5 852.1L1316.8 848.0L1317.1 859.2L1317.4 857.5L1317.6 858.4L1317.9 857.5L1318.2 857.7L1318.5 855.2L1318.8 865.6L1319.0 861.6L1319.3 866.0L1319.6 865.3L1319.9 864.7L1320.2 867.7L1320.4 867.3L1320.7 870.3L1321.0 871.6L1321.3 868.9L1321.6 873.3L1321.8 874.8L1322.1 867.8L1322.4 871.8L1322.7 871.2L1323.0 872.5L1323.2 876.6L1323.5 876.7L1323.8 877.7L1324.1 876.7L1324.4 874.7L1324.6 876.9L1324.9 875.6L1325.2 879.9L1325.5 882.5L1325.8 877.6L1326.0 882.0L1326.3 878.1L1326.6 877.1L1326.9 880.8L1327.2 883.3L1327.4 877.6L1327.7 878.5L1328.0 878.0L1328.3 885.0L1328.6 880.8L1328.8 881.6L1329.1 883.8L1329.4 882.5L1329.7 884.5L1330.0 879.0L1330.2 881.6L1330.5 877.3L1330.8 882.7L1331.1 880.0L1331.4 880.8L1331.6 881.9L1331.9 875.7L1332.2 876.4L1332.5 880.0L1332.8 878.8L1333.0 879.3L1333.3 873.4L1333.6 885.6L1333.9 878.3L1334.2 881.7L1334.4 883.6L1334.7 875.7L1335.0 879.9L1335.3 885.3L1335.6 879.5L1335.8 884.1L1336.1 883.0L1336.4 880.7L1336.7 879.3L1337.0 881.1L1337.2 881.1L1337.5 886.1L1337.8 889.2L1338.1 878.6L1338.4 885.9L1338.6 885.4L1338.9 886.1L1339.2 891.8L1339.5 887.4L1339.8 887.7L1340.0 892.5L1340.3 891.8L1340.6 896.0L1340.9 895.1L1341.2 890.2L1341.4 895.6L1341.7 895.5L1342.0 895.5L1342.3 899.0L1342.6 898.6L1342.8 892.6L1343.1 894.7L1343.4 895.9L1343.7 899.4L1344.0 894.7L1344.2 895.3L1344.5 890.6L1344.8 898.6L1345.1 896.6L1345.4 895.3L1345.6 901.5L1345.9 900.5L1346.2 901.0L1346.5 896.5L1346.8 897.7L1347.0 896.7L1347.3 901.8L1347.6 898.3L1347.9 897.2L1348.2 895.1L1348.4 900.9L1348.7 895.6L1349.0 900.9L1349.3 902.9L1349.6 896.3L1349.8 893.7L1350.1 898.4L1350.4 892.6L1350.7 898.1L1351.0 898.5L1351.2 904.6L1351.5 904.0L1351.8 900.8L1352.1 902.8L1352.4 900.3L1352.6 900.4L1352.9 901.6L1353.2 903.7L1353.5 899.0L1353.8 901.4L1354.0 898.2L1354.3 893.7L1354.6 899.3L1354.9 901.6L1355.2 900.4L1355.4 899.4L1355.7 898.9L1356.0 897.4L1356.3 901.8L1356.6 897.6L1356.8 902.5L1357.1 901.3L1357.4 899.3L1357.7 899.6L1358.0 896.2L1358.2 900.8L1358.5 903.9L1358.8 900.3L1359.1 893.5L1359.4 902.2L1359.6 898.8L1359.9 897.8L1360.2 899.6L1360.5 903.8L1360.8 900.6L1361.0 899.8L1361.3 903.4L1361.6 896.1L1361.9 898.2L1362.2 901.6L1362.4 904.0L1362.7 898.0L1363.0 899.5L1363.3 896.1L1363.6 896.6L1363.8 898.5L1364.1 895.3L1364.4 905.6L1364.7 899.1L1365.0 901.0L1365.2 904.8L1365.5 898.8L1365.8 896.1L1366.1 897.2L1366.4 897.3L1366.6 900.4L1366.9 900.4L1367.2 896.6L1367.5 899.2L1367.8 898.3L1368.0 894.0L1368.3 901.2L1368.6 900.1L1368.9 898.3L1369.2 896.7L1369.4 897.2L1369.7 895.8L1370.0 894.2L1370.3 891.3L1370.6 892.4L1370.8 895.2L1371.1 889.4L1371.4 898.1L1371.7 890.1L1372.0 897.2L1372.2 899.2L1372.5 897.6L1372.8 894.8L1373.1 893.9L1373.4 893.2L1373.6 898.6L1373.9 896.7L1374.2 893.8L1374.5 898.6L1374.8 895.1L1375.0 895.7L1375.3 896.5L1375.6 895.4L1375.9 894.8L1376.2 896.6L1376.4 895.6L1376.7 894.1L1377.0 891.5L1377.3 894.4L1377.6 893.2L1377.8 893.8L1378.1 894.2L1378.4 890.6L1378.7 896.8L1379.0 889.3L1379.2 889.5L1379.5 894.1L1379.8 892.0L1380.1 897.2L1380.4 898.9L1380.6 896.7L1380.9 898.6L1381.2 897.5L1381.5 895.6L1381.8 896.9L1382.0 898.9L1382.3 899.4L1382.6 898.5L1382.9 898.9L1383.2 902.1L1383.4 898.5L1383.7 900.2L1384.0 896.4L1384.3 903.7L1384.6 903.3L1384.8 895.7L1385.1 904.4L1385.4 895.6L1385.7 905.3L1386.0 902.4L1386.2 904.6L1386.5 903.0L1386.8 905.1L1387.1 900.5L1387.4 910.3L1387.6 907.4L1387.9 909.3L1388.2 904.6L1388.5 899.1L1388.8 898.4L1389.0 905.3L1389.3 902.1L1389.6 902.9L1389.9 906.4L1390.2 911.0L1390.4 906.2L1390.7 903.6L1391.0 904.9L1391.3 905.7L1391.6 911.6L1391.8 905.6L1392.1 906.7L1392.4 906.3L1392.7 901.7L1393.0 911.0L1393.2 906.2L1393.5 905.3L1393.8 905.2L1394.1 904.8L1394.4 903.0L1394.6 906.2L1394.9 903.2L1395.2 911.3L1395.5 907.8L1395.8 908.2L1396.0 908.8L1396.3 909.8L1396.6 903.8L1396.9 908.8L1397.2 907.7L1397.4 912.5L1397.7 905.8L1398.0 908.0L1398.3 909.6L1398.6 907.2L1398.8 906.0L1399.1 906.6L1399.4 902.7L1399.7 905.4L1400.0 909.8L1400.2 903.1L1400.5 900.0L1400.8 910.4L1401.1 905.1L1401.4 908.3L1401.6 901.2L1401.9 902.2L1402.2 904.9L1402.5 908.1L1402.8 909.4L1403.0 902.1L1403.3 905.6L1403.6 904.0L1403.9 900.1L1404.2 913.0L1404.4 908.7L1404.7 903.6L1405.0 906.9L1405.3 910.7L1405.6 905.8L1405.8 903.6L1406.1 905.3L1406.4 904.1L1406.7 907.2L1407.0 910.6L1407.2 901.8L1407.5 907.3L1407.8 906.8L1408.1 908.1L1408.4 902.9L1408.6 905.9L1408.9 909.1L1409.2 911.4L1409.5 909.5L1409.8 900.9L1410.0 902.3L1410.3 910.3L1410.6 907.8L1410.9 908.4L1411.2 907.7L1411.4 903.1L1411.7 900.0L1412.0 912.7L1412.3 901.2L1412.6 907.2L1412.8 905.3L1413.1 903.9L1413.4 904.6L1413.7 910.4L1414.0 907.6L1414.2 910.1L1414.5 905.8L1414.8 903.9L1415.1 906.9L1415.4 905.1L1415.6 907.1L1415.9 909.2L1416.2 905.5L1416.5 906.8L1416.8 905.5L1417.0 903.6L1417.3 907.1L1417.6 903.4L1417.9 907.7L1418.2 905.0L1418.4 902.8L1418.7 909.1L1419.0 906.0L1419.3 902.9L1419.6 912.3L1419.8 902.8L1420.1 902.5L1420.4 906.5L1420.7 899.4L1421.0 906.7L1421.2 900.0L1421.5 905.2L1421.8 904.8L1422.1 906.0L1422.4 906.1L1422.6 900.4L1422.9 910.3L1423.2 908.0L1423.5 905.5L1423.8 901.5L1424.0 904.5L1424.3 901.9L1424.6 901.8L1424.9 907.2L1425.2 906.4L1425.4 903.9L1425.7 911.6L1426.0 905.4L1426.3 904.1L1426.6 907.1L1426.8 901.8L1427.1 904.7L1427.4 908.5L1427.7 900.8L1428.0 905.1L1428.2 905.7L1428.5 901.3L1428.8 905.4L1429.1 905.3L1429.4 902.7L1429.6 907.0L1429.9 905.3L1430.2 902.0L1430.5 903.4L1430.8 903.2L1431.0 908.9L1431.3 897.8L1431.6 906.2L1431.9 907.2L1432.2 905.3L1432.4 904.9L1432.7 903.2L1433.0 907.5L1433.3 902.2L1433.6 901.9L1433.8 899.9L1434.1 904.8L1434.4 902.4L1434.7 904.9L1435.0 904.6L1435.2 899.9L1435.5 905.9L1435.8 903.0L1436.1 902.0L1436.4 909.1L1436.6 905.0L1436.9 901.2L1437.2 902.1L1437.5 905.6L1437.8 901.9L1438.0 905.8L1438.3 896.6L1438.6 899.9L1438.9 905.8L1439.2 905.6L1439.4 904.5L1439.7 901.9L1440.0 901.1L1440.3 908.9L1440.6 897.6L1440.8 901.5L1441.1 904.7L1441.4 903.2L1441.7 901.3L1442.0 898.7L1442.2 899.5L1442.5 900.7L1442.8 907.7L1443.1 902.0L1443.4 900.9L1443.6 897.1L1443.9 907.0L1444.2 899.3L1444.5 903.7L1444.8 903.0L1445.0 905.4L1445.3 899.3L1445.6 899.9L1445.9 894.8L1446.2 898.3L1446.4 903.7L1446.7 902.5L1447.0 898.2L1447.3 902.1L1447.6 903.2L1447.8 905.9L1448.1 901.9L1448.4 897.0L1448.7 900.4L1449.0 898.2L1449.2 901.6L1449.5 901.3L1449.8 896.0L1450.1 898.7L1450.4 899.2L1450.6 900.1L1450.9 892.0L1451.2 898.3L1451.5 893.0L1451.8 898.6L1452.0 898.8L1452.3 903.0L1452.6 900.9L1452.9 898.4L1453.2 898.7L1453.4 896.8L1453.7 893.2L1454.0 894.4L1454.3 897.4L1454.6 901.3L1454.8 893.7L1455.1 893.9L1455.4 898.1L1455.7 890.6L1456.0 899.6L1456.2 895.5L1456.5 896.7L1456.8 901.3L1457.1 895.3L1457.4 897.4L1457.6 891.9L1457.9 902.2L1458.2 892.0L1458.5 895.7L1458.8 895.1L1459.0 890.6L1459.3 897.6L1459.6 890.1L1459.9 893.2L1460.2 895.5L1460.4 893.8L1460.7 892.0L1461.0 897.5L1461.3 890.4L1461.6 890.3L1461.8 891.0L1462.1 894.3L1462.4 890.5L1462.7 893.5L1463.0 891.4L1463.2 891.6L1463.5 897.2L1463.8 889.2L1464.1 891.7L1464.4 889.0L1464.6 886.3L1464.9 891.7L1465.2 885.9L1465.5 889.0L1465.8 890.5L1466.0 887.5L1466.3 892.8L1466.6 895.7L1466.9 888.9L1467.2 889.6L1467.4 885.0L1467.7 886.2L1468.0 888.5L1468.3 884.2L1468.6 883.7L1468.8 883.8L1469.1 881.1L1469.4 886.9L1469.7 886.1L1470.0 883.3L1470.2 883.9L1470.5 882.1L1470.8 886.7L1471.1 877.1L1471.4 881.4L1471.6 880.5L1471.9 877.7L1472.2 877.0L1472.5 876.3L1472.8 870.3L1473.0 876.2L1473.3 876.9L1473.6 875.2L1473.9 867.2L1474.2 876.1L1474.4 874.1L1474.7 871.5L1475.0 865.9L1475.3 871.2L1475.6 862.4L1475.8 865.1L1476.1 859.2L1476.4 869.5L1476.7 860.4L1477.0 857.1L1477.2 863.0L1477.5 851.8L1477.8 855.8L1478.1 856.7L1478.4 856.3L1478.6 855.5L1478.9 847.0L1479.2 852.3L1479.5 847.7L1479.8 843.2L1480.0 848.2L1480.3 841.5L1480.6 834.7L1480.9 843.8L1481.2 836.4L1481.4 836.7L1481.7 833.7L1482.0 828.2L1482.3 830.0L1482.6 825.2L1482.8 823.7L1483.1 822.6L1483.4 825.8L1483.7 815.4L1484.0 816.5L1484.2 811.5L1484.5 811.5L1484.8 808.6L1485.1 806.8L1485.4 801.3L1485.6 793.8L1485.9 798.3L1486.2 793.1L1486.5 792.5L1486.8 783.9L1487.0 783.5L1487.3 777.7L1487.6 784.2L1487.9 774.5L1488.2 771.4L1488.4 771.9L1488.7 763.7L1489.0 763.6L1489.3 762.4L1489.6 756.2L1489.8 747.3L1490.1 749.0L1490.4 744.0L1490.7 734.6L1491.0 729.5L1491.2 732.7L1491.5 721.5L1491.8 719.4L1492.1 710.9L1492.4 705.0L1492.6 702.9L1492.9 700.5L1493.2 695.9L1493.5 683.6L1493.8 685.2L1494.0 678.3L1494.3 680.2L1494.6 676.0L1494.9 665.7L1495.2 668.0L1495.4 661.0L1495.7 661.0L1496.0 652.3L1496.3 657.8L1496.6 655.0L1496.8 648.4L1497.1 647.0L1497.4 643.0L1497.7 642.9L1498.0 634.8L1498.2 629.4L1498.5 633.3L1498.8 630.4L1499.1 633.8L1499.4 627.8L1499.6 629.1L1499.9 626.3L1500.2 630.2L1500.5 626.5L1500.8 624.2L1501.0 625.7L1501.3 630.6L1501.6 636.9L1501.9 636.6L1502.2 633.0L1502.4 642.7L1502.7 642.5L1503.0 641.4L1503.3 644.1L1503.6 646.7L1503.8 653.7L1504.1 662.8L1504.4 660.9L1504.7 665.7L1505.0 668.1L1505.2 667.4L1505.5 676.6L1505.8 677.9L1506.1 684.4L1506.4 688.5L1506.6 695.8L1506.9 697.4L1507.2 705.2L1507.5 701.4L1507.8 709.0L1508.0 722.0L1508.3 718.0L1508.6 728.3L1508.9 729.5L1509.2 731.8L1509.4 732.1L1509.7 742.2L1510.0 747.3L1510.3 749.2L1510.6 751.6L1510.8 755.9L1511.1 755.3L1511.4 764.9L1511.7 769.7L1512.0 773.3L1512.2 769.3L1512.5 776.5L1512.8 779.9L1513.1 783.2L1513.4 787.4L1513.6 786.4L1513.9 784.6L1514.2 793.6L1514.5 793.8L1514.8 799.8L1515.0 802.5L1515.3 804.5L1515.6 807.7L1515.9 809.1L1516.2 812.6L1516.4 817.3L1516.7 818.6L1517.0 815.6L1517.3 822.8L1517.6 827.3L1517.8 825.7L1518.1 831.2L1518.4 833.7L1518.7 831.7L1519.0 833.6L1519.2 839.5L1519.5 841.1L1519.8 842.2L1520.1 842.3L1520.4 847.1L1520.6 846.7L1520.9 850.2L1521.2 851.7L1521.5 853.9L1521.8 857.6L1522.0 849.3L1522.3 853.3L1522.6 864.7L1522.9 858.5L1523.2 860.9L1523.4 868.2L1523.7 866.8L1524.0 862.2L1524.3 865.6L1524.6 866.9L1524.8 872.2L1525.1 867.7L1525.4 871.2L1525.7 873.2L1526.0 877.3L1526.2 867.1L1526.5 866.8L1526.8 870.7L1527.1 868.8L1527.4 870.8L1527.6 872.1L1527.9 873.7L1528.2 875.7L1528.5 875.6L1528.8 875.4L1529.0 877.9L1529.3 876.8L1529.6 879.4L1529.9 878.6L1530.2 881.0L1530.4 881.4L1530.7 880.1L1531.0 881.9L1531.3 880.6L1531.6 882.8L1531.8 882.8L1532.1 882.1L1532.4 880.1L1532.7 880.8L1533.0 886.8L1533.2 884.3L1533.5 879.9L1533.8 885.4L1534.1 885.2L1534.4 880.7L1534.6 889.2L1534.9 882.5L1535.2 888.9L1535.5 886.0L1535.8 890.1L1536.0 892.6L1536.3 888.0L1536.6 893.9L1536.9 882.7L1537.2 889.6L1537.4 892.9L1537.7 895.2L1538.0 885.9L1538.3 891.5L1538.6 884.4L1538.8 895.3L1539.1 894.4L1539.4 888.6L1539.7 894.1L1540.0 887.2L1540.2 890.8L1540.5 886.2L1540.8 895.6L1541.1 893.9L1541.4 893.4L1541.6 894.8L1541.9 892.8L1542.2 894.2L1542.5 895.8L1542.8 893.0L1543.0 888.2L1543.3 898.0L1543.6 894.4L1543.9 898.0L1544.2 893.0L1544.4 890.3L1544.7 891.6L1545.0 894.9L1545.3 894.8L1545.6 897.4L1545.8 897.2L1546.1 894.3L1546.4 900.3L1546.7 894.3L1547.0 898.4L1547.2 895.4L1547.5 894.4L1547.8 896.3L1548.1 895.4L1548.4 899.5L1548.6 892.0L1548.9 898.4L1549.2 896.7L1549.5 894.6L1549.8 893.5L1550.0 897.8L1550.3 898.2L1550.6 895.0L1550.9 894.2L1551.2 903.4L1551.4 898.2L1551.7 894.7L1552.0 901.6L1552.3 898.1L1552.6 901.1L1552.8 898.4L1553.1 903.9L1553.4 898.8L1553.7 896.6L1554.0 896.7L1554.2 900.8L1554.5 899.6L1554.8 898.3L1555.1 899.2L1555.4 899.9L1555.6 894.6L1555.9 900.5L1556.2 897.5L1556.5 899.7L1556.8 900.3L1557.0 900.3L1557.3 903.1L1557.6 898.2L1557.9 899.6L1558.2 895.9L1558.4 900.8L1558.7 898.8L1559.0 900.1L1559.3 901.9L1559.6 902.1L1559.8 901.3L1560.1 900.1L1560.4 899.1L1560.7 901.6L1561.0 904.7L1561.2 903.9L1561.5 899.8L1561.8 896.5L1562.1 897.7L1562.4 900.4L1562.6 897.0L1562.9 897.3L1563.2 898.0L1563.5 905.3L1563.8 899.0L1564.0 902.3L1564.3 899.6L1564.6 901.7L1564.9 899.3L1565.2 899.2L1565.4 901.3L1565.7 894.5L1566.0 897.1L1566.3 907.2L1566.6 901.3L1566.8 894.2L1567.1 900.2L1567.4 899.2L1567.7 899.3L1568.0 904.0L1568.2 900.7L1568.5 899.4L1568.8 903.5L1569.1 903.6L1569.4 901.1L1569.6 904.8L1569.9 900.7L1570.2 896.3L1570.5 898.9L1570.8 906.2L1571.0 905.9L1571.3 896.6L1571.6 899.9L1571.9 900.6L1572.2 902.1L1572.4 894.9L1572.7 903.5L1573.0 902.3L1573.3 899.3L1573.6 906.1L1573.8 903.9L1574.1 899.0L1574.4 901.9L1574.7 896.2L1575.0 901.1L1575.2 897.1L1575.5 896.1L1575.8 896.8L1576.1 895.5L1576.4 900.7L1576.6 898.2L1576.9 896.9L1577.2 897.7L1577.5 898.6L1577.8 901.1L1578.0 902.6L1578.3 900.3L1578.6 892.9L1578.9 893.1L1579.2 895.7L1579.4 893.4L1579.7 902.6L1580.0 896.0L1580.3 899.1L1580.6 896.3L1580.8 898.4L1581.1 895.1L1581.4 893.5L1581.7 891.6L1582.0 896.7L1582.2 897.8L1582.5 892.6L1582.8 896.7L1583.1 898.4L1583.4 893.1L1583.6 892.6L1583.9 895.5L1584.2 893.0L1584.5 892.0L1584.8 894.0L1585.0 887.5L1585.3 890.7L1585.6 886.2L1585.9 891.7L1586.2 894.4L1586.4 895.5L1586.7 886.7L1587.0 895.1L1587.3 891.4L1587.6 891.0L1587.8 890.5L1588.1 892.1L1588.4 889.6L1588.7 889.8L1589.0 888.7L1589.2 890.1L1589.5 887.7L1589.8 886.3L1590.1 890.0L1590.4 888.0L1590.6 886.9L1590.9 882.7L1591.2 882.4L1591.5 884.9L1591.8 882.1L1592.0 887.9L1592.3 882.4L1592.6 882.6L1592.9 880.5L1593.2 884.3L1593.4 877.1L1593.7 883.3L1594.0 885.3L1594.3 880.4L1594.6 880.8L1594.8 880.1L1595.1 879.6L1595.4 875.9L1595.7 875.0L1596.0 869.5L1596.2 874.3L1596.5 875.0L1596.8 876.3L1597.1 868.3L1597.4 868.2L1597.6 870.5L1597.9 869.0L1598.2 870.9L1598.5 863.6L1598.8 869.0L1599.0 864.7L1599.3 870.0L1599.6 866.6L1599.9 862.4L1600.2 862.9L1600.4 860.1L1600.7 861.5L1601.0 857.2L1601.3 858.6L1601.6 858.1L1601.8 855.2L1602.1 853.0L1602.4 854.1L1602.7 850.9L1603.0 853.8L1603.2 846.8L1603.5 849.9L1603.8 844.9L1604.1 843.4L1604.4 842.6L1604.6 842.0L1604.9 841.9L1605.2 840.4L1605.5 840.7L1605.8 836.5L1606.0 835.1L1606.3 832.1L1606.6 830.9L1606.9 827.3L1607.2 825.4L1607.4 823.2L1607.7 821.4L1608.0 816.9L1608.3 814.0L1608.6 815.6L1608.8 813.7L1609.1 809.8L1609.4 813.0L1609.7 801.6L1610.0 801.5L1610.2 799.8L1610.5 799.0L1610.8 795.3L1611.1 798.8L1611.4 795.4L1611.6 789.1L1611.9 789.7L1612.2 785.0L1612.5 778.3L1612.8 776.3L1613.0 776.0L1613.3 776.5L1613.6 765.4L1613.9 760.4L1614.2 758.5L1614.4 762.8L1614.7 752.2L1615.0 752.0L1615.3 753.2L1615.6 749.3L1615.8 752.1L1616.1 746.7L1616.4 736.8L1616.7 740.4L1617.0 728.0L1617.2 732.6L1617.5 726.9L1617.8 727.1L1618.1 722.1L1618.4 721.9L1618.6 715.4L1618.9 716.6L1619.2 712.1L1619.5 709.5L1619.8 706.0L1620.0 705.7L1620.3 706.9L1620.6 708.2L1620.9 700.0L1621.2 705.0L1621.4 706.9L1621.7 703.8L1622.0 700.3L1622.3 701.3L1622.6 698.8L1622.8 702.8L1623.1 693.9L1623.4 703.4L1623.7 699.3L1624.0 699.9L1624.2 708.8L1624.5 699.4L1624.8 702.5L1625.1 701.3L1625.4 711.1L1625.6 707.5L1625.9 713.3L1626.2 719.7L1626.5 720.2L1626.8 713.8L1627.0 723.0L1627.3 718.5L1627.6 726.0L1627.9 730.6L1628.2 737.5L1628.4 741.9L1628.7 732.0L1629.0 739.3L1629.3 737.3L1629.6 744.3L1629.8 753.7L1630.1 747.7L1630.4 754.9L1630.7 761.5L1631.0 760.3L1631.2 766.0L1631.5 763.2L1631.8 763.1L1632.1 776.4L1632.4 765.8L1632.6 774.4L1632.9 770.4L1633.2 779.0L1633.5 778.4L1633.8 780.8L1634.0 787.5L1634.3 792.9L1634.6 790.8L1634.9 796.6L1635.2 798.2L1635.4 797.1L1635.7 802.7L1636.0 806.9L1636.3 810.6L1636.6 815.5L1636.8 812.8L1637.1 811.5L1637.4 819.2L1637.7 820.1L1638.0 823.8L1638.2 825.6L1638.5 829.2L1638.8 831.7L1639.1 828.3L1639.4 837.1L1639.6 835.9L1639.9 838.5L1640.2 838.6L1640.5 840.8L1640.8 839.2L1641.0 845.5L1641.3 837.3L1641.6 848.4L1641.9 845.0L1642.2 848.8L1642.4 850.3L1642.7 851.9L1643.0 849.5L1643.3 854.2L1643.6 852.2L1643.8 851.3L1644.1 854.5L1644.4 855.4L1644.7 853.8L1645.0 860.4L1645.2 855.5L1645.5 859.6L1645.8 858.6L1646.1 853.3L1646.4 863.4L1646.6 856.3L1646.9 856.8L1647.2 866.9L1647.5 861.5L1647.8 862.4L1648.0 863.8L1648.3 861.7L1648.6 857.2L1648.9 866.3L1649.2 865.5L1649.4 859.9L1649.7 858.7L1650.0 864.6L1650.3 860.0L1650.6 864.3L1650.8 859.9L1651.1 861.8L1651.4 867.4L1651.7 866.5L1652.0 867.8L1652.2 864.8L1652.5 865.0L1652.8 863.6L1653.1 868.9L1653.4 858.8L1653.6 868.4L1653.9 866.2L1654.2 862.4L1654.5 856.5L1654.8 865.8L1655.0 858.7L1655.3 863.2L1655.6 862.6L1655.9 861.0L1656.2 857.9L1656.4 863.7L1656.7 865.6L1657.0 856.4L1657.3 868.1L1657.6 861.6L1657.8 863.8L1658.1 861.0L1658.4 859.8L1658.7 858.8L1659.0 865.8L1659.2 861.8L1659.5 861.8L1659.8 859.9L1660.1 861.6L1660.4 861.9L1660.6 866.4L1660.9 867.5L1661.2 862.5L1661.5 858.3L1661.8 868.2L1662.0 867.1L1662.3 862.3L1662.6 862.3L1662.9 868.8L1663.2 860.4L1663.4 871.3L1663.7 865.7L1664.0 866.4L1664.3 872.9L1664.6 866.0L1664.8 874.1L1665.1 869.8L1665.4 870.2L1665.7 875.1L1666.0 869.1L1666.2 872.2L1666.5 877.1L1666.8 870.8L1667.1 867.6L1667.4 871.1L1667.6 875.6L1667.9 874.4L1668.2 875.2L1668.5 877.4L1668.8 876.2L1669.0 874.9L1669.3 880.8L1669.6 880.7L1669.9 878.0L1670.2 878.2L1670.4 887.4L1670.7 878.0L1671.0 884.2L1671.3 878.5L1671.6 878.0L1671.8 889.0L1672.1 885.4L1672.4 884.5L1672.7 890.7L1673.0 887.4L1673.2 886.4L1673.5 886.7L1673.8 892.8L1674.1 890.7L1674.4 891.0L1674.6 890.3L1674.9 890.3L1675.2 886.9L1675.5 892.8L1675.8 894.1L1676.0 894.4L1676.3 896.7L1676.6 896.9L1676.9 892.9L1677.2 896.6L1677.4 894.1L1677.7 900.7L1678.0 895.1L1678.3 898.5L1678.6 894.3L1678.8 898.8L1679.1 893.4L1679.4 892.5L1679.7 899.5L1680.0 900.9L1680.2 902.6L1680.5 899.8L1680.8 900.7L1681.1 899.2L1681.4 902.7L1681.6 898.6L1681.9 899.4L1682.2 907.1L1682.5 898.7L1682.8 904.0L1683.0 900.8L1683.3 903.7L1683.6 902.3L1683.9 899.5L1684.2 899.6L1684.4 898.0L1684.7 908.6L1685.0 906.1L1685.3 900.1L1685.6 901.2L1685.8 910.4L1686.1 904.5L1686.4 904.4L1686.7 902.9L1687.0 904.5L1687.2 902.0L1687.5 898.6L1687.8 905.0L1688.1 905.0L1688.4 907.9L1688.6 904.5L1688.9 900.1L1689.2 909.1L1689.5 908.0L1689.8 906.3L1690.0 911.9L1690.3 910.6L1690.6 904.0L1690.9 906.5L1691.2 906.6L1691.4 906.0L1691.7 911.1L1692.0 910.6L1692.3 904.7L1692.6 911.0L1692.8 912.1L1693.1 907.9L1693.4 907.6L1693.7 904.6L1694.0 908.4L1694.2 910.3L1694.5 904.2L1694.8 906.0L1695.1 905.6L1695.4 907.4L1695.6 910.2L1695.9 909.4L1696.2 909.5L1696.5 907.3L1696.8 912.5L1697.0 911.6L1697.3 910.0L1697.6 907.8L1697.9 906.6L1698.2 911.2L1698.4 910.7L1698.7 911.4L1699.0 914.1L1699.3 912.9L1699.6 904.2L1699.8 910.2L1700.1 910.0L1700.4 913.5L1700.7 909.5L1701.0 912.0L1701.2 913.8L1701.5 907.9L1701.8 914.8L1702.1 912.9L1702.4 911.5L1702.6 907.1L1702.9 910.4L1703.2 909.2L1703.5 912.3L1703.8 912.1L1704.0 912.7L1704.3 913.6L1704.6 911.3L1704.9 914.6L1705.2 908.9L1705.4 915.3L1705.7 916.1L1706.0 914.4L1706.3 915.7L1706.6 915.0L1706.8 911.2L1707.1 909.9L1707.4 918.1L1707.7 910.9L1708.0 911.6L1708.2 913.4L1708.5 906.8L1708.8 909.5L1709.1 913.9L1709.4 912.1L1709.6 909.3L1709.9 911.2L1710.2 910.5L1710.5 917.2L1710.8 913.5L1711.0 913.9L1711.3 916.7L1711.6 910.7L1711.9 913.7L1712.2 912.6L1712.4 915.0L1712.7 914.2L1713.0 916.8L1713.3 914.2L1713.6 916.9L1713.8 911.4L1714.1 918.1L1714.4 913.2L1714.7 911.8L1715.0 914.9L1715.2 912.8L1715.5 913.6L1715.8 911.6L1716.1 914.7L1716.4 912.5L1716.6 914.4L1716.9 915.7L1717.2 911.5L1717.5 912.1L1717.8 914.9L1718.0 913.7L1718.3 909.8L1718.6 916.0L1718.9 918.5L1719.2 912.1L1719.4 919.2L1719.7 915.9L1720.0 920.7L1720.3 912.4L1720.6 912.1L1720.8 915.1L1721.1 916.2L1721.4 911.9L1721.7 909.2L1722.0 915.0L1722.2 917.0L1722.5 913.0L1722.8 916.1L1723.1 914.4L1723.4 909.8L1723.6 913.1L1723.9 917.2L1724.2 916.8L1724.5 917.7L1724.8 917.8L1725.0 914.1L1725.3 914.5L1725.6 917.2L1725.9 921.1L1726.2 920.8L1726.4 912.6L1726.7 915.2L1727.0 916.2L1727.3 916.9L1727.6 914.3L1727.8 920.6L1728.1 921.1L1728.4 917.3L1728.7 918.6L1729.0 922.4L1729.2 913.4L1729.5 912.8L1729.8 914.8L1730.1 920.6L1730.4 918.3L1730.6 918.2L1730.9 912.6L1731.2 921.7L1731.5 917.2L1731.8 922.7L1732.0 916.2L1732.3 917.4L1732.6 916.2L1732.9 922.0L1733.2 919.6L1733.4 917.8L1733.7 917.8L1734.0 911.1L1734.3 917.2L1734.6 915.5L1734.8 910.3L1735.1 920.3L1735.4 916.8L1735.7 917.0L1736.0 914.6L1736.2 919.1L1736.5 915.7L1736.8 913.3L1737.1 913.3L1737.4 916.6L1737.6 918.3L1737.9 922.8L1738.2 913.9L1738.5 914.2L1738.8 919.6L1739.0 916.0L1739.3 914.2L1739.6 916.3L1739.9 915.2L1740.2 919.4L1740.4 915.3L1740.7 917.8L1741.0 913.9L1741.3 917.8L1741.6 911.3L1741.8 918.2L1742.1 918.8L1742.4 917.1L1742.7 915.1L1743.0 913.5L1743.2 918.6L1743.5 920.4L1743.8 915.5L1744.1 915.2L1744.4 913.9L1744.6 916.3L1744.9 912.3L1745.2 916.8L1745.5 914.7L1745.8 912.9L1746.0 914.4L1746.3 915.4L1746.6 911.7L1746.9 914.2L1747.2 921.7L1747.4 915.1L1747.7 915.5L1748.0 915.6L1748.3 915.7L1748.6 913.7L1748.8 919.4L1749.1 912.8L1749.4 910.7L1749.7 918.0L1750.0 917.2L1750.2 914.3L1750.5 918.5L1750.8 916.2L1751.1 914.7L1751.4 914.7L1751.6 914.5L1751.9 922.2L1752.2 918.9L1752.5 915.4L1752.8 920.5L1753.0 913.1L1753.3 921.3L1753.6 919.2L1753.9 916.6L1754.2 914.2L1754.4 916.2L1754.7 912.2L1755.0 914.4L1755.3 920.2L1755.6 914.3L1755.8 912.5L1756.1 918.0L1756.4 914.4L1756.7 920.2L1757.0 916.0L1757.2 913.9L1757.5 916.7L1757.8 913.4L1758.1 912.5L1758.4 918.0L1758.6 913.4L1758.9 916.5L1759.2 919.5L1759.5 916.9L1759.8 916.3L1760.0 912.1L1760.3 917.6L1760.6 920.2L1760.9 914.9L1761.2 910.9L1761.4 913.4L1761.7 915.1L1762.0 912.2L1762.3 912.3L1762.6 909.7L1762.8 916.5L1763.1 914.0L1763.4 912.9L1763.7 914.4L1764.0 913.2L1764.2 915.6L1764.5 915.7L1764.8 917.6L1765.1 907.9L1765.4 914.2L1765.6 914.6L1765.9 915.1L1766.2 912.2L1766.5 913.7L1766.8 913.9L1767.0 912.0L1767.3 911.7L1767.6 916.5L1767.9 913.4L1768.2 912.4L1768.4 918.5L1768.7 917.3L1769.0 913.9L1769.3 915.1L1769.6 911.5L1769.8 913.9L1770.1 910.0L1770.4 917.5L1770.7 913.7L1771.0 913.9L1771.2 911.8L1771.5 908.5L1771.8 918.3L1772.1 914.5L1772.4 911.3L1772.6 914.9L1772.9 910.0L1773.2 913.0L1773.5 914.8L1773.8 910.2L1774.0 915.5L1774.3 911.1L1774.6 909.1L1774.9 913.8L1775.2 913.5L1775.4 911.6L1775.7 912.8L1776.0 912.0L1776.3 913.8L1776.6 908.9L1776.8 910.4L1777.1 906.6L1777.4 906.3L1777.7 907.3L1778.0 908.9L1778.2 914.1L1778.5 909.2L1778.8 908.0L1779.1 904.7L1779.4 908.2L1779.6 916.1L1779.9 912.3L1780.2 907.9L1780.5 910.4L1780.8 907.4L1781.0 909.3L1781.3 911.2L1781.6 907.4L1781.9 910.3L1782.2 906.9L1782.4 903.2L1782.7 910.0L1783.0 909.8L1783.3 907.2L1783.6 901.3L1783.8 907.6L1784.1 902.3L1784.4 904.8L1784.7 905.2L1785.0 911.1L1785.2 898.1L1785.5 906.4L1785.8 903.5L1786.1 902.5L1786.4 900.2L1786.6 907.5L1786.9 907.4L1787.2 904.7L1787.5 902.2L1787.8 902.8L1788.0 899.6L1788.3 900.6L1788.6 900.4L1788.9 902.3L1789.2 899.6L1789.4 897.9L1789.7 894.0L1790.0 895.0L1790.3 896.7L1790.6 894.0L1790.8 895.4L1791.1 897.0L1791.4 894.4L1791.7 894.9L1792.0 900.4L1792.2 898.1L1792.5 897.7L1792.8 897.0L1793.1 892.0L1793.4 895.9L1793.6 899.5L1793.9 891.9L1794.2 891.8L1794.5 897.0L1794.8 895.3L1795.0 890.3L1795.3 895.1L1795.6 892.1L1795.9 887.2L1796.2 886.8L1796.4 891.2L1796.7 889.5L1797.0 883.9L1797.3 882.5L1797.6 888.8L1797.8 884.9L1798.1 883.8L1798.4 880.5L1798.7 881.7L1799.0 883.2L1799.2 889.5L1799.5 883.1L1799.8 885.2L1800.1 881.9L1800.4 888.8L1800.6 881.1L1800.9 883.9L1801.2 879.7L1801.5 884.7L1801.8 877.5L1802.0 884.0L1802.3 884.8L1802.6 882.7L1802.9 884.8L1803.2 884.7L1803.4 889.7L1803.7 883.3L1804.0 888.7L1804.3 879.0L1804.6 885.8L1804.8 884.7L1805.1 885.0L1805.4 885.2L1805.7 886.2L1806.0 882.9L1806.2 884.7L1806.5 889.8L1806.8 887.0L1807.1 894.6L1807.4 892.7L1807.6 890.9L1807.9 885.4L1808.2 892.4L1808.5 893.9L1808.8 893.1L1809.0 896.3L1809.3 889.7L1809.6 890.3L1809.9 891.5L1810.2 893.6L1810.4 897.6L1810.7 897.5L1811.0 893.5" fill="none" stroke="#f67f1c" stroke-width="2.8" stroke-linejoin="round" stroke-linecap="round"/>
<text transform="translate(982.00 1022.50) scale(0.9300 1.0400)" font-family='"Liberation Sans", Arial, Helvetica, sans-serif' font-size="31.2" text-anchor="middle" fill="#000" stroke="#000" stroke-width="0.4">10</text>
<text transform="translate(1051.09 1022.50) scale(0.9300 1.0400)" font-family='"Liberation Sans", Arial, Helvetica, sans-serif' font-size="31.2" text-anchor="middle" fill="#000" stroke="#000" stroke-width="0.4">15</text>
<text transform="translate(1120.18 1022.50) scale(0.9300 1.0400)" font-family='"Liberation Sans", Arial, Helvetica, sans-serif' font-size="31.2" text-anchor="middle" fill="#000" stroke="#000" stroke-width="0.4">20</text>
<text transform="translate(1189.27 1022.50) scale(0.9300 1.0400)" font-family='"Liberation Sans", Arial, Helvetica, sans-serif' font-size="31.2" text-anchor="middle" fill="#000" stroke="#000" stroke-width="0.4">25</text>
<text transform="translate(1258.36 1022.50) scale(0.9300 1.0400)" font-family='"Liberation Sans", Arial, Helvetica, sans-serif' font-size="31.2" text-anchor="middle" fill="#000" stroke="#000" stroke-width="0.4">30</text>
<text transform="translate(1327.45 1022.50) scale(0.9300 1.0400)" font-family='"Liberation Sans", Arial, Helvetica, sans-serif' font-size="31.2" text-anchor="middle" fill="#000" stroke="#000" stroke-width="0.4">35</text>
<text transform="translate(1396.54 1022.50) scale(0.9300 1.0400)" font-family='"Liberation Sans", Arial, Helvetica, sans-serif' font-size="31.2" text-anchor="middle" fill="#000" stroke="#000" stroke-width="0.4">40</text>
<text transform="translate(1465.63 1022.50) scale(0.9300 1.0400)" font-family='"Liberation Sans", Arial, Helvetica, sans-serif' font-size="31.2" text-anchor="middle" fill="#000" stroke="#000" stroke-width="0.4">45</text>
<text transform="translate(1534.72 1022.50) scale(0.9300 1.0400)" font-family='"Liberation Sans", Arial, Helvetica, sans-serif' font-size="31.2" text-anchor="middle" fill="#000" stroke="#000" stroke-width="0.4">50</text>
<text transform="translate(1603.81 1022.50) scale(0.9300 1.0400)" font-family='"Liberation Sans", Arial, Helvetica, sans-serif' font-size="31.2" text-anchor="middle" fill="#000" stroke="#000" stroke-width="0.4">55</text>
<text transform="translate(1672.90 1022.50) scale(0.9300 1.0400)" font-family='"Liberation Sans", Arial, Helvetica, sans-serif' font-size="31.2" text-anchor="middle" fill="#000" stroke="#000" stroke-width="0.4">60</text>
<text transform="translate(1741.99 1022.50) scale(0.9300 1.0400)" font-family='"Liberation Sans", Arial, Helvetica, sans-serif' font-size="31.2" text-anchor="middle" fill="#000" stroke="#000" stroke-width="0.4">65</text>
<text transform="translate(1811.08 1022.50) scale(0.9300 1.0400)" font-family='"Liberation Sans", Arial, Helvetica, sans-serif' font-size="31.2" text-anchor="middle" fill="#000" stroke="#000" stroke-width="0.4">70</text>
<line x1="1239.01" y1="914.30" x2="1239.01" y2="930.00" stroke="#000" stroke-width="3.8" stroke-linecap="round"/>
<line x1="1301.20" y1="914.30" x2="1301.20" y2="930.00" stroke="#000" stroke-width="3.8" stroke-linecap="round"/>
<line x1="1500.17" y1="914.30" x2="1500.17" y2="930.00" stroke="#000" stroke-width="3.8" stroke-linecap="round"/>
<line x1="1623.16" y1="914.30" x2="1623.16" y2="930.00" stroke="#000" stroke-width="3.8" stroke-linecap="round"/>
<line x1="1660.46" y1="914.30" x2="1660.46" y2="930.00" stroke="#000" stroke-width="3.8" stroke-linecap="round"/>
<line x1="1803.07" y1="914.30" x2="1803.07" y2="930.00" stroke="#000" stroke-width="3.8" stroke-linecap="round"/>
<line x1="1334.40" y1="833.20" x2="1334.40" y2="858.20" stroke="#0a9614" stroke-width="2.8" />
<path d="M1329.7 851.9L1339.1 851.9L1334.4 868.2Z" fill="#0a9614"/>
<line x1="1373.50" y1="852.20" x2="1373.50" y2="878.00" stroke="#0a9614" stroke-width="2.8" />
<path d="M1368.8 871.7L1378.2 871.7L1373.5 888.0Z" fill="#0a9614"/>
<text transform="translate(1330.51 406.30) scale(0.9931 1.0200)" font-family='"Liberation Sans", Arial, Helvetica, sans-serif' font-size="60.5" text-anchor="start" fill="#000" >XRD after 400<tspan dy="1.09" font-size="59.29" font-family='"Liberation Serif", "DejaVu Serif", serif'>°</tspan><tspan dy="-1.09">C</tspan></text>
<text transform="translate(952.80 702.78) rotate(-90) scale(0.9797 1.0000)" font-family='"Liberation Sans", Arial, Helvetica, sans-serif' font-size="38.2" text-anchor="start" fill="#000" >Intensity</text>
<text transform="translate(986.49 809.40) scale(0.9420 1.0200)" font-family='"Liberation Sans", Arial, Helvetica, sans-serif' font-size="31.2" text-anchor="start" fill="#000" stroke="#000" stroke-width="0.45">D = 5.0 <tspan font-family='"Liberation Serif", "DejaVu Serif", serif' stroke="none">±</tspan> 0.5 nm</text>
<text transform="translate(1315.22 821.20) scale(0.9144 1.0600)" font-family='"Liberation Sans", Arial, Helvetica, sans-serif' font-size="26.6" text-anchor="start" fill="#0a9614" >CuO [48-1548]</text>
<text transform="translate(991.40 933.60) scale(0.9373 1.0200)" font-family='"Liberation Sans", Arial, Helvetica, sans-serif' font-size="31.2" text-anchor="start" fill="#000" stroke="#000" stroke-width="0.45">CeO<tspan dy="8.5" font-size="23">2</tspan><tspan dy="-8.5"> [34-394]</tspan></text>
<text transform="translate(1306.17 1086.80) scale(0.9825 1.0570)" font-family='"Liberation Sans", Arial, Helvetica, sans-serif' font-size="35.2" text-anchor="start" fill="#000" stroke="#000" stroke-width="0.45">2<tspan font-family='"Liberation Serif", "DejaVu Serif", serif' stroke="none">θ</tspan>, degrees</text>
<line x1="284.70" y1="41.90" x2="284.70" y2="1355.70" stroke="#000" stroke-width="8.4" />
<line x1="280.50" y1="46.10" x2="1878.60" y2="46.10" stroke="#000" stroke-width="8.4" />
<line x1="280.50" y1="1351.50" x2="1878.60" y2="1351.50" stroke="#000" stroke-width="8.4" />
<line x1="251.10" y1="64.20" x2="284.70" y2="64.20" stroke="#000" stroke-width="8.4" />
<line x1="262.00" y1="100.98" x2="284.70" y2="100.98" stroke="#000" stroke-width="8.4" />
<line x1="262.00" y1="137.76" x2="284.70" y2="137.76" stroke="#000" stroke-width="8.4" />
<line x1="262.00" y1="174.54" x2="284.70" y2="174.54" stroke="#000" stroke-width="8.4" />
<line x1="262.00" y1="211.32" x2="284.70" y2="211.32" stroke="#000" stroke-width="8.4" />
<line x1="251.10" y1="248.10" x2="284.70" y2="248.10" stroke="#000" stroke-width="8.4" />
<line x1="262.00" y1="284.88" x2="284.70" y2="284.88" stroke="#000" stroke-width="8.4" />
<line x1="262.00" y1="321.66" x2="284.70" y2="321.66" stroke="#000" stroke-width="8.4" />
<line x1="262.00" y1="358.44" x2="284.70" y2="358.44" stroke="#000" stroke-width="8.4" />
<line x1="262.00" y1="395.22" x2="284.70" y2="395.22" stroke="#000" stroke-width="8.4" />
<line x1="251.10" y1="432.00" x2="284.70" y2="432.00" stroke="#000" stroke-width="8.4" />
<line x1="262.00" y1="468.78" x2="284.70" y2="468.78" stroke="#000" stroke-width="8.4" />
<line x1="262.00" y1="505.56" x2="284.70" y2="505.56" stroke="#000" stroke-width="8.4" />
<line x1="262.00" y1="542.34" x2="284.70" y2="542.34" stroke="#000" stroke-width="8.4" />
<line x1="262.00" y1="579.12" x2="284.70" y2="579.12" stroke="#000" stroke-width="8.4" />
<line x1="251.10" y1="615.90" x2="284.70" y2="615.90" stroke="#000" stroke-width="8.4" />
<line x1="262.00" y1="652.68" x2="284.70" y2="652.68" stroke="#000" stroke-width="8.4" />
<line x1="262.00" y1="689.46" x2="284.70" y2="689.46" stroke="#000" stroke-width="8.4" />
<line x1="262.00" y1="726.24" x2="284.70" y2="726.24" stroke="#000" stroke-width="8.4" />
<line x1="262.00" y1="763.02" x2="284.70" y2="763.02" stroke="#000" stroke-width="8.4" />
<line x1="251.10" y1="799.80" x2="284.70" y2="799.80" stroke="#000" stroke-width="8.4" />
<line x1="262.00" y1="836.58" x2="284.70" y2="836.58" stroke="#000" stroke-width="8.4" />
<line x1="262.00" y1="873.36" x2="284.70" y2="873.36" stroke="#000" stroke-width="8.4" />
<line x1="262.00" y1="910.14" x2="284.70" y2="910.14" stroke="#000" stroke-width="8.4" />
<line x1="262.00" y1="946.92" x2="284.70" y2="946.92" stroke="#000" stroke-width="8.4" />
<line x1="251.10" y1="983.70" x2="284.70" y2="983.70" stroke="#000" stroke-width="8.4" />
<line x1="262.00" y1="1020.48" x2="284.70" y2="1020.48" stroke="#000" stroke-width="8.4" />
<line x1="262.00" y1="1057.26" x2="284.70" y2="1057.26" stroke="#000" stroke-width="8.4" />
<line x1="262.00" y1="1094.04" x2="284.70" y2="1094.04" stroke="#000" stroke-width="8.4" />
<line x1="262.00" y1="1130.82" x2="284.70" y2="1130.82" stroke="#000" stroke-width="8.4" />
<line x1="251.10" y1="1167.60" x2="284.70" y2="1167.60" stroke="#000" stroke-width="8.4" />
<line x1="262.00" y1="1204.38" x2="284.70" y2="1204.38" stroke="#000" stroke-width="8.4" />
<line x1="262.00" y1="1241.16" x2="284.70" y2="1241.16" stroke="#000" stroke-width="8.4" />
<line x1="262.00" y1="1277.94" x2="284.70" y2="1277.94" stroke="#000" stroke-width="8.4" />
<line x1="262.00" y1="1314.72" x2="284.70" y2="1314.72" stroke="#000" stroke-width="8.4" />
<line x1="251.10" y1="1351.50" x2="284.70" y2="1351.50" stroke="#000" stroke-width="8.4" />
<line x1="284.59" y1="1351.50" x2="284.59" y2="1373.90" stroke="#000" stroke-width="8.4" />
<line x1="321.66" y1="1351.50" x2="321.66" y2="1373.90" stroke="#000" stroke-width="8.4" />
<line x1="358.73" y1="1351.50" x2="358.73" y2="1373.90" stroke="#000" stroke-width="8.4" />
<line x1="395.80" y1="1351.50" x2="395.80" y2="1384.70" stroke="#000" stroke-width="8.4" />
<line x1="432.87" y1="1351.50" x2="432.87" y2="1373.90" stroke="#000" stroke-width="8.4" />
<line x1="469.94" y1="1351.50" x2="469.94" y2="1373.90" stroke="#000" stroke-width="8.4" />
<line x1="507.01" y1="1351.50" x2="507.01" y2="1373.90" stroke="#000" stroke-width="8.4" />
<line x1="544.08" y1="1351.50" x2="544.08" y2="1373.90" stroke="#000" stroke-width="8.4" />
<line x1="581.15" y1="1351.50" x2="581.15" y2="1384.70" stroke="#000" stroke-width="8.4" />
<line x1="618.22" y1="1351.50" x2="618.22" y2="1373.90" stroke="#000" stroke-width="8.4" />
<line x1="655.29" y1="1351.50" x2="655.29" y2="1373.90" stroke="#000" stroke-width="8.4" />
<line x1="692.36" y1="1351.50" x2="692.36" y2="1373.90" stroke="#000" stroke-width="8.4" />
<line x1="729.43" y1="1351.50" x2="729.43" y2="1373.90" stroke="#000" stroke-width="8.4" />
<line x1="766.50" y1="1351.50" x2="766.50" y2="1384.70" stroke="#000" stroke-width="8.4" />
<line x1="803.57" y1="1351.50" x2="803.57" y2="1373.90" stroke="#000" stroke-width="8.4" />
<line x1="840.64" y1="1351.50" x2="840.64" y2="1373.90" stroke="#000" stroke-width="8.4" />
<line x1="877.71" y1="1351.50" x2="877.71" y2="1373.90" stroke="#000" stroke-width="8.4" />
<line x1="914.78" y1="1351.50" x2="914.78" y2="1373.90" stroke="#000" stroke-width="8.4" />
<line x1="951.85" y1="1351.50" x2="951.85" y2="1384.70" stroke="#000" stroke-width="8.4" />
<line x1="988.92" y1="1351.50" x2="988.92" y2="1373.90" stroke="#000" stroke-width="8.4" />
<line x1="1025.99" y1="1351.50" x2="1025.99" y2="1373.90" stroke="#000" stroke-width="8.4" />
<line x1="1063.06" y1="1351.50" x2="1063.06" y2="1373.90" stroke="#000" stroke-width="8.4" />
<line x1="1100.13" y1="1351.50" x2="1100.13" y2="1373.90" stroke="#000" stroke-width="8.4" />
<line x1="1137.20" y1="1351.50" x2="1137.20" y2="1384.70" stroke="#000" stroke-width="8.4" />
<line x1="1174.27" y1="1351.50" x2="1174.27" y2="1373.90" stroke="#000" stroke-width="8.4" />
<line x1="1211.34" y1="1351.50" x2="1211.34" y2="1373.90" stroke="#000" stroke-width="8.4" />
<line x1="1248.41" y1="1351.50" x2="1248.41" y2="1373.90" stroke="#000" stroke-width="8.4" />
<line x1="1285.48" y1="1351.50" x2="1285.48" y2="1373.90" stroke="#000" stroke-width="8.4" />
<line x1="1322.55" y1="1351.50" x2="1322.55" y2="1384.70" stroke="#000" stroke-width="8.4" />
<line x1="1359.62" y1="1351.50" x2="1359.62" y2="1373.90" stroke="#000" stroke-width="8.4" />
<line x1="1396.69" y1="1351.50" x2="1396.69" y2="1373.90" stroke="#000" stroke-width="8.4" />
<line x1="1433.76" y1="1351.50" x2="1433.76" y2="1373.90" stroke="#000" stroke-width="8.4" />
<line x1="1470.83" y1="1351.50" x2="1470.83" y2="1373.90" stroke="#000" stroke-width="8.4" />
<line x1="1507.90" y1="1351.50" x2="1507.90" y2="1384.70" stroke="#000" stroke-width="8.4" />
<line x1="1544.97" y1="1351.50" x2="1544.97" y2="1373.90" stroke="#000" stroke-width="8.4" />
<line x1="1582.04" y1="1351.50" x2="1582.04" y2="1373.90" stroke="#000" stroke-width="8.4" />
<line x1="1619.11" y1="1351.50" x2="1619.11" y2="1373.90" stroke="#000" stroke-width="8.4" />
<line x1="1656.18" y1="1351.50" x2="1656.18" y2="1373.90" stroke="#000" stroke-width="8.4" />
<line x1="1693.25" y1="1351.50" x2="1693.25" y2="1384.70" stroke="#000" stroke-width="8.4" />
<line x1="1730.32" y1="1351.50" x2="1730.32" y2="1373.90" stroke="#000" stroke-width="8.4" />
<line x1="1767.39" y1="1351.50" x2="1767.39" y2="1373.90" stroke="#000" stroke-width="8.4" />
<line x1="1804.46" y1="1351.50" x2="1804.46" y2="1373.90" stroke="#000" stroke-width="8.4" />
<line x1="1841.53" y1="1351.50" x2="1841.53" y2="1373.90" stroke="#000" stroke-width="8.4" />
<line x1="1878.60" y1="1351.50" x2="1878.60" y2="1384.70" stroke="#000" stroke-width="8.4" />
<path d="M284.7 1328.1C289.6 1328.0 305.9 1327.8 314.3 1327.8C322.7 1327.8 329.5 1327.5 335.3 1327.8C341.1 1328.0 343.8 1329.0 348.9 1329.3C354.0 1329.6 361.0 1330.1 366.2 1329.7C371.4 1329.3 374.1 1327.6 379.9 1327.1C385.7 1326.6 394.1 1327.0 400.9 1326.9C407.7 1326.8 412.4 1326.8 420.7 1326.5C428.9 1326.2 443.4 1325.5 450.4 1325.0C457.4 1324.5 458.3 1324.5 462.8 1323.8C467.3 1323.1 472.5 1322.9 477.6 1320.7C482.7 1318.5 488.1 1314.1 493.5 1310.8C498.9 1307.5 504.8 1301.0 510.2 1300.9C515.6 1300.8 520.4 1306.2 525.9 1310.1C531.4 1314.0 537.6 1321.5 543.2 1324.4C548.8 1327.3 553.7 1326.8 559.3 1327.5C564.9 1328.2 571.2 1328.7 576.6 1328.7C582.0 1328.7 586.3 1328.1 591.5 1327.5C596.7 1326.9 599.8 1326.1 607.6 1325.0C615.4 1323.9 628.2 1322.2 638.5 1321.0C648.8 1319.8 658.4 1318.7 669.5 1317.6C680.6 1316.5 696.0 1315.8 705.3 1314.5C714.6 1313.2 717.2 1311.6 725.1 1309.5C733.0 1307.4 745.2 1304.4 752.4 1302.1C759.6 1299.8 762.9 1298.3 768.5 1295.9C774.1 1293.5 780.4 1290.0 785.8 1287.9C791.1 1285.8 795.5 1284.2 800.6 1283.5C805.8 1282.8 811.0 1282.9 816.7 1283.5C822.4 1284.1 834.7 1287.3 834.7 1287.3C834.7 1287.3 851.4 1278.0 851.4 1278.0C851.4 1278.0 866.9 1247.0 866.9 1247.0C866.9 1247.0 883.2 955.8 883.2 955.8C883.2 955.8 899.7 969.2 899.7 969.2C899.7 969.2 915.7 1284.2 915.7 1284.2C915.7 1284.2 931.8 1313.2 931.8 1313.2C931.8 1313.2 944.6 1315.9 950.4 1317.6C956.2 1319.2 961.4 1321.5 966.5 1323.1C971.6 1324.6 976.1 1326.3 981.3 1326.9C986.4 1327.5 992.2 1327.2 997.4 1326.9C1002.6 1326.6 1005.3 1325.3 1012.3 1325.0C1019.3 1324.7 1031.7 1324.8 1039.5 1324.8C1047.3 1324.8 1053.1 1324.8 1059.3 1325.2C1065.5 1325.7 1070.6 1326.7 1076.6 1327.5C1082.6 1328.3 1089.4 1329.6 1095.2 1330.0C1101.0 1330.4 1105.7 1329.8 1111.3 1329.7C1116.9 1329.6 1123.0 1328.8 1128.6 1329.3C1134.2 1329.8 1139.3 1331.8 1144.7 1332.4C1150.1 1333.0 1155.2 1333.2 1160.8 1332.8C1166.4 1332.3 1172.9 1330.3 1178.1 1329.7C1183.2 1329.1 1186.8 1329.8 1191.7 1329.3C1196.7 1328.8 1202.2 1327.0 1207.8 1326.5C1213.4 1326.0 1219.7 1325.6 1225.1 1326.0C1230.5 1326.4 1232.4 1328.2 1240.0 1328.7C1247.6 1329.2 1263.1 1328.9 1270.9 1329.3C1278.7 1329.7 1281.4 1331.0 1287.0 1331.2C1292.6 1331.4 1298.8 1330.9 1304.4 1330.6C1310.0 1330.3 1314.6 1329.8 1320.4 1329.3C1326.2 1328.8 1333.4 1328.0 1339.0 1327.5C1344.6 1327.0 1348.7 1326.1 1353.9 1326.2C1359.1 1326.3 1364.7 1327.5 1370.0 1328.1C1375.3 1328.7 1380.8 1329.8 1386.0 1330.0C1391.2 1330.2 1395.5 1328.9 1400.9 1329.0C1406.3 1329.1 1412.6 1330.1 1418.2 1330.6C1423.8 1331.1 1428.9 1332.3 1434.3 1332.2C1439.7 1332.1 1444.8 1330.7 1450.4 1330.2C1456.0 1329.7 1462.3 1330.1 1467.7 1329.3C1473.1 1328.5 1477.2 1325.8 1482.6 1325.2C1488.0 1324.7 1494.3 1324.8 1499.9 1326.0C1505.5 1327.2 1510.6 1331.6 1516.0 1332.4C1521.4 1333.2 1526.7 1331.4 1532.1 1330.9C1537.5 1330.4 1542.8 1329.2 1548.2 1329.3C1553.6 1329.3 1559.0 1330.8 1564.3 1331.2C1569.6 1331.6 1574.9 1331.7 1580.3 1331.4C1585.7 1331.1 1591.2 1329.9 1596.4 1329.3C1601.6 1328.7 1606.1 1328.0 1611.3 1327.7C1616.5 1327.4 1621.8 1326.9 1627.4 1327.2C1633.0 1327.5 1639.1 1329.4 1644.7 1329.7C1650.3 1330.0 1655.2 1329.7 1660.8 1329.3C1666.4 1328.9 1672.5 1327.4 1678.1 1327.2C1683.7 1327.0 1688.8 1327.6 1694.2 1328.1C1699.6 1328.5 1704.9 1329.6 1710.3 1329.9C1715.7 1330.2 1721.5 1330.2 1726.8 1330.2C1732.1 1330.2 1736.9 1329.9 1742.1 1329.7C1747.3 1329.5 1752.8 1329.8 1758.2 1329.0C1763.6 1328.2 1769.0 1326.0 1774.3 1325.2C1779.6 1324.4 1784.9 1323.8 1790.3 1324.0C1795.7 1324.2 1800.8 1325.4 1806.4 1326.5C1812.0 1327.6 1818.2 1329.6 1823.8 1330.6C1829.4 1331.6 1834.6 1333.0 1839.9 1332.7C1845.2 1332.4 1850.3 1329.8 1855.9 1328.7C1861.5 1327.6 1869.5 1326.5 1873.3 1326.0C1877.1 1325.5 1877.7 1325.7 1878.6 1325.6" fill="none" stroke="#cc0000" stroke-opacity="0.49" stroke-width="8" stroke-linejoin="round" stroke-linecap="butt"/>
<line x1="1878.60" y1="41.90" x2="1878.60" y2="1355.70" stroke="#cc0000" stroke-width="8.6" />
<line x1="1878.60" y1="1330.00" x2="1912.00" y2="1330.00" stroke="#cc0000" stroke-width="8.4" />
<line x1="1878.60" y1="1223.00" x2="1901.10" y2="1223.00" stroke="#cc0000" stroke-width="8.4" />
<line x1="1878.60" y1="1116.00" x2="1912.00" y2="1116.00" stroke="#cc0000" stroke-width="8.4" />
<line x1="1878.60" y1="1009.00" x2="1901.10" y2="1009.00" stroke="#cc0000" stroke-width="8.4" />
<line x1="1878.60" y1="902.00" x2="1912.00" y2="902.00" stroke="#cc0000" stroke-width="8.4" />
<line x1="1878.60" y1="795.00" x2="1901.10" y2="795.00" stroke="#cc0000" stroke-width="8.4" />
<line x1="1878.60" y1="688.00" x2="1912.00" y2="688.00" stroke="#cc0000" stroke-width="8.4" />
<line x1="1878.60" y1="581.00" x2="1901.10" y2="581.00" stroke="#cc0000" stroke-width="8.4" />
<line x1="1878.60" y1="474.00" x2="1912.00" y2="474.00" stroke="#cc0000" stroke-width="8.4" />
<line x1="1878.60" y1="367.00" x2="1901.10" y2="367.00" stroke="#cc0000" stroke-width="8.4" />
<line x1="1878.60" y1="260.00" x2="1912.00" y2="260.00" stroke="#cc0000" stroke-width="8.4" />
<line x1="1878.60" y1="153.00" x2="1901.10" y2="153.00" stroke="#cc0000" stroke-width="8.4" />
<line x1="1878.60" y1="46.00" x2="1912.00" y2="46.00" stroke="#cc0000" stroke-width="8.4" />
<text transform="translate(227.60 83.70) scale(1.0000 1.0300)" font-family='"Liberation Sans", Arial, Helvetica, sans-serif' font-size="65.0" text-anchor="end" fill="#000" >0</text>
<text transform="translate(227.60 267.60) scale(1.0000 1.0300)" font-family='"Liberation Sans", Arial, Helvetica, sans-serif' font-size="65.0" text-anchor="end" fill="#000" >10</text>
<text transform="translate(227.60 451.50) scale(1.0000 1.0300)" font-family='"Liberation Sans", Arial, Helvetica, sans-serif' font-size="65.0" text-anchor="end" fill="#000" >20</text>
<text transform="translate(227.60 635.40) scale(1.0000 1.0300)" font-family='"Liberation Sans", Arial, Helvetica, sans-serif' font-size="65.0" text-anchor="end" fill="#000" >30</text>
<text transform="translate(227.60 819.30) scale(1.0000 1.0300)" font-family='"Liberation Sans", Arial, Helvetica, sans-serif' font-size="65.0" text-anchor="end" fill="#000" >40</text>
<text transform="translate(227.60 1003.20) scale(1.0000 1.0300)" font-family='"Liberation Sans", Arial, Helvetica, sans-serif' font-size="65.0" text-anchor="end" fill="#000" >50</text>
<text transform="translate(227.60 1187.10) scale(1.0000 1.0300)" font-family='"Liberation Sans", Arial, Helvetica, sans-serif' font-size="65.0" text-anchor="end" fill="#000" >60</text>
<text transform="translate(227.60 1371.00) scale(1.0000 1.0300)" font-family='"Liberation Sans", Arial, Helvetica, sans-serif' font-size="65.0" text-anchor="end" fill="#000" >70</text>
<text transform="translate(395.80 1460.10) scale(1.0000 1.0300)" font-family='"Liberation Sans", Arial, Helvetica, sans-serif' font-size="65.0" text-anchor="middle" fill="#000" >100</text>
<text transform="translate(581.15 1460.10) scale(1.0000 1.0300)" font-family='"Liberation Sans", Arial, Helvetica, sans-serif' font-size="65.0" text-anchor="middle" fill="#000" >200</text>
<text transform="translate(766.50 1460.10) scale(1.0000 1.0300)" font-family='"Liberation Sans", Arial, Helvetica, sans-serif' font-size="65.0" text-anchor="middle" fill="#000" >300</text>
<text transform="translate(951.85 1460.10) scale(1.0000 1.0300)" font-family='"Liberation Sans", Arial, Helvetica, sans-serif' font-size="65.0" text-anchor="middle" fill="#000" >400</text>
<text transform="translate(1137.20 1460.10) scale(1.0000 1.0300)" font-family='"Liberation Sans", Arial, Helvetica, sans-serif' font-size="65.0" text-anchor="middle" fill="#000" >500</text>
<text transform="translate(1322.55 1460.10) scale(1.0000 1.0300)" font-family='"Liberation Sans", Arial, Helvetica, sans-serif' font-size="65.0" text-anchor="middle" fill="#000" >600</text>
<text transform="translate(1507.90 1460.10) scale(1.0000 1.0300)" font-family='"Liberation Sans", Arial, Helvetica, sans-serif' font-size="65.0" text-anchor="middle" fill="#000" >700</text>
<text transform="translate(1693.25 1460.10) scale(1.0000 1.0300)" font-family='"Liberation Sans", Arial, Helvetica, sans-serif' font-size="65.0" text-anchor="middle" fill="#000" >800</text>
<text transform="translate(1878.60 1460.10) scale(1.0000 1.0300)" font-family='"Liberation Sans", Arial, Helvetica, sans-serif' font-size="65.0" text-anchor="middle" fill="#000" >900</text>
<text transform="translate(1935.00 1349.30) scale(1.0000 1.0300)" font-family='"Liberation Sans", Arial, Helvetica, sans-serif' font-size="65.0" text-anchor="start" fill="#cc0000" >0</text>
<text transform="translate(1935.00 1135.30) scale(1.0000 1.0300)" font-family='"Liberation Sans", Arial, Helvetica, sans-serif' font-size="65.0" text-anchor="start" fill="#cc0000" >1</text>
<text transform="translate(1935.00 921.30) scale(1.0000 1.0300)" font-family='"Liberation Sans", Arial, Helvetica, sans-serif' font-size="65.0" text-anchor="start" fill="#cc0000" >2</text>
<text transform="translate(1935.00 707.30) scale(1.0000 1.0300)" font-family='"Liberation Sans", Arial, Helvetica, sans-serif' font-size="65.0" text-anchor="start" fill="#cc0000" >3</text>
<text transform="translate(1935.00 493.30) scale(1.0000 1.0300)" font-family='"Liberation Sans", Arial, Helvetica, sans-serif' font-size="65.0" text-anchor="start" fill="#cc0000" >4</text>
<text transform="translate(1935.00 279.30) scale(1.0000 1.0300)" font-family='"Liberation Sans", Arial, Helvetica, sans-serif' font-size="65.0" text-anchor="start" fill="#cc0000" >5</text>
<text transform="translate(1935.00 65.30) scale(1.0000 1.0300)" font-family='"Liberation Sans", Arial, Helvetica, sans-serif' font-size="65.0" text-anchor="start" fill="#cc0000" >6</text>
<text transform="translate(77.20 925.62) rotate(-90) scale(0.9999 1.0000)" font-family='"Liberation Sans", Arial, Helvetica, sans-serif' font-size="76.0" text-anchor="start" fill="#000" >Weight loss, %</text>
<text transform="translate(2065.60 887.41) rotate(-90) scale(1.0012 1.0300)" font-family='"Liberation Sans", Arial, Helvetica, sans-serif' font-size="76.0" text-anchor="start" fill="#cc0000" >DTG, %/<tspan dy="1.37" font-size="74.48" font-family='"Liberation Serif", "DejaVu Serif", serif'>°</tspan><tspan dy="-1.37">C</tspan></text>
<text transform="translate(800.38 1585.40) scale(1.0831 1.0100)" font-family='"Liberation Sans", Arial, Helvetica, sans-serif' font-size="70.0" text-anchor="start" fill="#000" >Temperature, <tspan dy="-0.84" font-size="72.10" font-family='"Liberation Serif", "DejaVu Serif", serif'>°</tspan><tspan dy="0.84">C</tspan></text>
<text transform="translate(1046.52 131.50) scale(0.9999 1.0200)" font-family='"Liberation Sans", Arial, Helvetica, sans-serif' font-size="65.0" text-anchor="start" fill="#000" >- Solv</text>
</svg>
</body>
</html>
